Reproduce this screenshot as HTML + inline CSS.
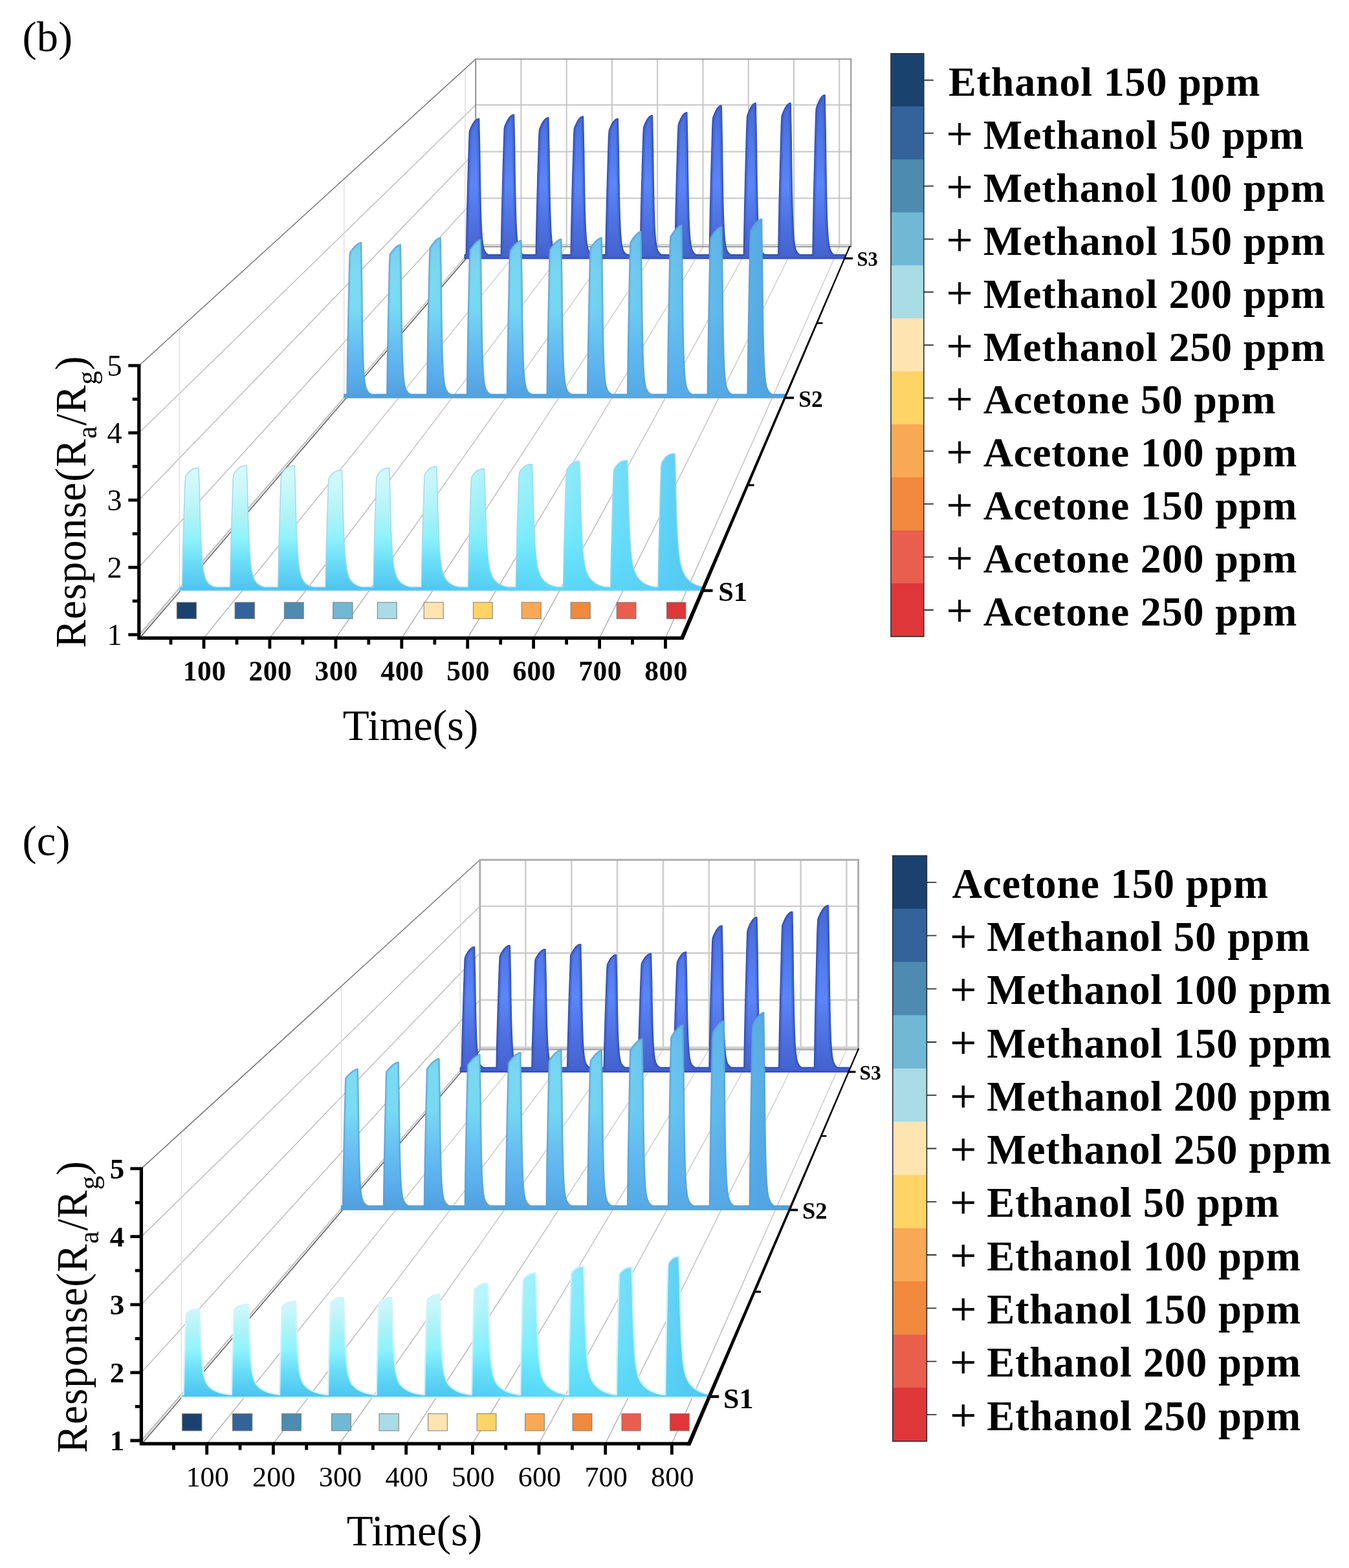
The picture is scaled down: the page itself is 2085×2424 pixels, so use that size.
<!DOCTYPE html>
<html lang="en"><head><meta charset="utf-8"><title>Gas sensor response figure (b) and (c)</title>
<style>html,body{margin:0;padding:0;background:#fff}body{width:2085px;height:2424px;overflow:hidden}svg{display:block}text{white-space:pre}.lg{font-kerning:none}</style>
</head><body>
<svg width="2085" height="2424" viewBox="0 0 2085 2424" role="img" aria-label="3D waterfall plots of sensor response versus time for sensors S1, S2 and S3">
<rect width="2085" height="2424" fill="#fff"/>
<g id="panel-b"><defs>
<linearGradient id="gb0" gradientUnits="userSpaceOnUse" x1="0" y1="700" x2="0" y2="913">
<stop offset="0" stop-color="#e2fbfd"/>
<stop offset="0.25" stop-color="#cdf8fa"/>
<stop offset="0.45" stop-color="#b2f4f6"/>
<stop offset="0.62" stop-color="#90f3fc"/>
<stop offset="0.8" stop-color="#6adcf8"/>
<stop offset="1" stop-color="#4cc2ef"/>
</linearGradient>
<linearGradient id="hb0" gradientUnits="userSpaceOnUse" x1="277.3" y1="0" x2="1087" y2="0">
<stop offset="0" stop-color="#52c9f4" stop-opacity="0"/>
<stop offset="0.45" stop-color="#5fe0fb" stop-opacity="0.05"/>
<stop offset="0.7" stop-color="#62e6fd" stop-opacity="0.55"/>
<stop offset="0.86" stop-color="#5cd6f8" stop-opacity="0.85"/>
<stop offset="1" stop-color="#52c6f2" stop-opacity="0.97"/>
</linearGradient>
<linearGradient id="gb1" gradientUnits="userSpaceOnUse" x1="0" y1="340" x2="0" y2="615">
<stop offset="0" stop-color="#74c6ec"/>
<stop offset="0.3" stop-color="#7ddcf2"/>
<stop offset="0.5" stop-color="#79dcf4"/>
<stop offset="0.7" stop-color="#68c0f2"/>
<stop offset="0.85" stop-color="#5cb0ee"/>
<stop offset="1" stop-color="#4f9fdc"/>
</linearGradient>
<linearGradient id="hb1" gradientUnits="userSpaceOnUse" x1="531.8" y1="0" x2="1213.5" y2="0">
<stop offset="0" stop-color="#52a6e2" stop-opacity="0"/>
<stop offset="0.5" stop-color="#5cb8ee" stop-opacity="0.15"/>
<stop offset="0.75" stop-color="#5ab2ec" stop-opacity="0.6"/>
<stop offset="1" stop-color="#4fa3e0" stop-opacity="0.95"/>
</linearGradient>
<linearGradient id="gb2" gradientUnits="userSpaceOnUse" x1="0" y1="147" x2="0" y2="399.6">
<stop offset="0" stop-color="#4668d6"/>
<stop offset="0.3" stop-color="#5079ea"/>
<stop offset="0.55" stop-color="#5a86f9"/>
<stop offset="0.8" stop-color="#4d70e0"/>
<stop offset="1" stop-color="#4362cc"/>
</linearGradient>
</defs>
<g fill="none" stroke-linecap="butt">
<path d="M805.4 91.4 V381.4 M875.7 91.4 V381.4 M945.9 91.4 V381.4 M1016.2 91.4 V381.4 M1086.5 91.4 V381.4 M1156.8 91.4 V381.4 M1227 91.4 V381.4 M1297.3 91.4 V381.4 M735.2 162.2 H1315.3 M735.2 234.4 H1315.3 M735.2 306.4 H1315.3 M735.2 378.4 H1315.3" stroke="#c6c6c6" stroke-width="2.0"/>
<path d="M214.8 669.3 L735.2 162.2 M214.8 773 L735.2 234.4 M214.8 877 L735.2 306.4 M214.8 981.2 L735.2 378.4" stroke="#b8b8b8" stroke-width="1.35"/>
<path d="M277.3 508.3 V913 M531.8 276.6 V615 M718.9 106.8 V399.6" stroke="#dadada" stroke-width="1.2"/>
<linearGradient id="flb" gradientUnits="userSpaceOnUse" x1="0" y1="986.4" x2="0" y2="381.4"><stop offset="0" stop-color="#a6a6a6"/><stop offset="0.55" stop-color="#bcbcbc"/><stop offset="1" stop-color="#cdcdcd"/></linearGradient>
<path d="M315 986.4 L805.4 381.4 M416.9 986.4 L875.7 381.4 M518.9 986.4 L945.9 381.4 M620.8 986.4 L1016.2 381.4 M722.7 986.4 L1086.5 381.4 M824.7 986.4 L1156.8 381.4 M926.6 986.4 L1227 381.4 M1028.5 986.4 L1297.3 381.4" stroke="url(#flb)" stroke-width="1.25"/>
<path d="M213.6 984.9 L734 379.9" stroke="#c9c9c9" stroke-width="1.5"/>
<path d="M215.8 986.4 L736.2 381.4" stroke="#6b6b6b" stroke-width="1.7"/>
<path d="M214.8 565.2 L735.2 91.4" stroke="#7a7a7a" stroke-width="1.5"/>
<path d="M735.2 91.4 H1315.3 V381.4 H735.2 Z" stroke="#888" stroke-width="1.8"/>
</g>
<defs><path id="pb2" d="M718.3 399.6 L718.3 394 L720.6 394 L721.3 354 L722 324.3 L722.7 297.6 L723.4 272.7 L724.1 249 L724.8 226.2 L725.5 204.2 L726.3 201 L727 199.3 L727.7 197.7 L728.4 196.2 L729.1 194.8 L729.8 193.4 L730.5 192.2 L731.2 191 L731.9 189.9 L732.6 188.9 L733.3 188 L734 187.2 L734.7 186.5 L735.5 185.8 L736.2 185.3 L736.9 184.8 L737.6 184.4 L738.3 184.1 L739 183.9 L739.7 183.7 L740.4 183.7 L741.5 235 L742 273.1 L742.5 301.4 L743 322.5 L743.5 338.4 L744 350.3 L744.5 359.4 L745 366.3 L745.5 371.6 L746 375.7 L746.5 379 L747 381.6 L747.5 383.6 L748 385.3 L748.5 386.7 L749 387.9 L750.5 390.4 L752 392 L753.5 393.2 L755 394 L756.5 394 L758 394 L759.5 394 L761 394 L762.5 394 L764 394 L765.5 394 L767 394 L768.5 394 L770 394 L771.5 394 L773 394 L774.5 394 L774.5 394 L775.2 352.8 L775.9 322.3 L776.6 294.8 L777.3 269.1 L778 244.7 L778.7 221.2 L779.5 198.6 L780.2 195.3 L780.9 193.6 L781.6 191.9 L782.3 190.4 L783 188.9 L783.7 187.5 L784.4 186.2 L785.1 185 L785.8 183.9 L786.5 182.9 L787.2 181.9 L787.9 181.1 L788.6 180.3 L789.3 179.7 L790.1 179.1 L790.8 178.6 L791.5 178.2 L792.2 177.9 L792.9 177.7 L793.6 177.5 L794.3 177.5 L795.4 230.3 L795.9 269.5 L796.4 298.7 L796.9 320.4 L797.4 336.7 L797.9 349 L798.4 358.3 L798.9 365.5 L799.4 370.9 L799.9 375.2 L800.4 378.6 L800.9 381.2 L801.4 383.3 L801.9 385.1 L802.4 386.5 L802.9 387.7 L804.4 390.3 L805.9 392 L807.4 393.2 L808.9 394 L810.4 394 L811.9 394 L813.4 394 L814.9 394 L816.4 394 L817.9 394 L819.4 394 L820.9 394 L822.4 394 L823.9 394 L825.4 394 L826.9 394 L828.4 394 L828.4 394 L829.1 354.6 L829.8 325.5 L830.5 299.2 L831.1 274.7 L831.8 251.3 L832.5 228.9 L833.2 207.3 L833.9 199.8 L834.6 198.1 L835.3 196.4 L835.9 194.9 L836.6 193.4 L837.3 192 L838 190.7 L838.7 189.5 L839.4 188.4 L840.1 187.4 L840.7 186.4 L841.4 185.6 L842.1 184.8 L842.8 184.2 L843.5 183.6 L844.2 183.1 L844.9 182.7 L845.5 182.4 L846.2 182.2 L846.9 182 L847.6 182 L848.7 233.7 L849.2 272.1 L849.7 300.6 L850.2 321.9 L850.7 337.9 L851.2 350 L851.7 359.1 L852.2 366.1 L852.7 371.4 L853.2 375.6 L853.7 378.9 L854.2 381.5 L854.7 383.6 L855.2 385.3 L855.7 386.7 L856.2 387.8 L857.7 390.4 L859.2 392 L860.7 393.2 L862.2 394 L863.7 394 L865.2 394 L866.7 394 L868.2 394 L869.7 394 L871.2 394 L872.7 394 L874.2 394 L875.7 394 L877.2 394 L878.7 394 L880.2 394 L881.7 394 L882.3 394 L882.3 394 L883 354.6 L883.7 325.5 L884.3 299.2 L885 274.7 L885.7 251.3 L886.4 228.9 L887 207.3 L887.7 198.3 L888.4 196.5 L889.1 194.8 L889.8 193.3 L890.4 191.8 L891.1 190.4 L891.8 189.1 L892.5 187.8 L893.2 186.7 L893.8 185.7 L894.5 184.7 L895.2 183.9 L895.9 183.1 L896.5 182.4 L897.2 181.8 L897.9 181.3 L898.6 180.9 L899.3 180.6 L899.9 180.4 L900.6 180.2 L901.3 180.2 L902.4 232.4 L902.9 271.1 L903.4 299.9 L903.9 321.3 L904.4 337.4 L904.9 349.6 L905.4 358.8 L905.9 365.8 L906.4 371.2 L906.9 375.4 L907.4 378.7 L907.9 381.4 L908.4 383.5 L908.9 385.2 L909.4 386.6 L909.9 387.8 L911.4 390.3 L912.9 392 L914.4 393.2 L915.9 394 L917.4 394 L918.9 394 L920.4 394 L921.9 394 L923.4 394 L924.9 394 L926.4 394 L927.9 394 L929.4 394 L930.9 394 L932.4 394 L933.9 394 L935.4 394 L936.1 394 L936.1 394 L936.8 355.4 L937.5 326.9 L938.1 301.1 L938.8 277.1 L939.5 254.3 L940.1 232.3 L940.8 211.1 L941.5 201.6 L942.2 199.8 L942.9 198.2 L943.5 196.6 L944.2 195.1 L944.9 193.7 L945.5 192.4 L946.2 191.2 L946.9 190.1 L947.6 189.1 L948.2 188.2 L948.9 187.3 L949.6 186.6 L950.3 185.9 L951 185.3 L951.6 184.8 L952.3 184.4 L953 184.1 L953.6 183.9 L954.3 183.7 L955 183.7 L956.1 235 L956.6 273.1 L957.1 301.4 L957.6 322.5 L958.1 338.4 L958.6 350.3 L959.1 359.4 L959.6 366.3 L960.1 371.6 L960.6 375.7 L961.1 379 L961.6 381.6 L962.1 383.6 L962.6 385.3 L963.1 386.7 L963.6 387.9 L965.1 390.4 L966.6 392 L968.1 393.2 L969.6 394 L971.1 394 L972.6 394 L974.1 394 L975.6 394 L977.1 394 L978.6 394 L980.1 394 L981.6 394 L983.1 394 L984.6 394 L986.1 394 L987.6 394 L989.1 394 L989.5 394 L989.5 394 L990.2 354.8 L990.8 325.8 L991.5 299.6 L992.2 275.2 L992.8 252 L993.5 229.6 L994.2 208.1 L994.8 196.8 L995.5 195 L996.2 193.3 L996.8 191.7 L997.5 190.2 L998.2 188.8 L998.9 187.4 L999.5 186.2 L1000.2 185 L1000.9 184 L1001.5 183 L1002.2 182.1 L1002.9 181.4 L1003.5 180.7 L1004.2 180.1 L1004.9 179.6 L1005.5 179.1 L1006.2 178.8 L1006.9 178.6 L1007.5 178.4 L1008.2 178.4 L1009.3 231 L1009.8 270 L1010.3 299.1 L1010.8 320.7 L1011.3 337 L1011.8 349.2 L1012.3 358.5 L1012.8 365.6 L1013.3 371 L1013.8 375.3 L1014.3 378.6 L1014.8 381.3 L1015.3 383.4 L1015.8 385.1 L1016.3 386.5 L1016.8 387.7 L1018.3 390.3 L1019.8 392 L1021.3 393.2 L1022.8 394 L1024.3 394 L1025.8 394 L1027.3 394 L1028.8 394 L1030.3 394 L1031.8 394 L1033.3 394 L1034.8 394 L1036.3 394 L1037.8 394 L1039.3 394 L1040.8 394 L1042.3 394 L1043.2 394 L1043.2 394 L1043.9 354.5 L1044.5 325.2 L1045.2 298.9 L1045.8 274.3 L1046.5 250.9 L1047.1 228.4 L1047.8 206.6 L1048.5 193 L1049.1 191.1 L1049.8 189.3 L1050.4 187.7 L1051.1 186.1 L1051.7 184.6 L1052.4 183.2 L1053.1 182 L1053.7 180.8 L1054.4 179.7 L1055 178.7 L1055.7 177.8 L1056.3 176.9 L1057 176.2 L1057.7 175.6 L1058.3 175.1 L1059 174.7 L1059.6 174.3 L1060.3 174.1 L1060.9 173.9 L1061.6 173.9 L1062.7 227.6 L1063.2 267.5 L1063.7 297.1 L1064.2 319.2 L1064.7 335.8 L1065.2 348.3 L1065.7 357.7 L1066.2 365 L1066.7 370.6 L1067.2 374.9 L1067.7 378.3 L1068.2 381 L1068.7 383.2 L1069.2 384.9 L1069.7 386.4 L1070.2 387.6 L1071.7 390.2 L1073.2 392 L1074.7 393.2 L1076.2 394 L1077.7 394 L1079.2 394 L1080.7 394 L1082.2 394 L1083.7 394 L1085.2 394 L1086.7 394 L1088.2 394 L1089.7 394 L1091.2 394 L1092.7 394 L1094.2 394 L1095.7 394 L1096.5 394 L1096.5 394 L1097.2 352.4 L1097.8 321.5 L1098.5 293.8 L1099.1 267.8 L1099.8 243.2 L1100.5 219.5 L1101.1 196.6 L1101.8 183 L1102.4 181.1 L1103.1 179.2 L1103.8 177.5 L1104.4 175.8 L1105.1 174.3 L1105.8 172.9 L1106.4 171.5 L1107.1 170.3 L1107.7 169.1 L1108.4 168.1 L1109.1 167.1 L1109.7 166.3 L1110.4 165.5 L1111 164.9 L1111.7 164.3 L1112.4 163.9 L1113 163.5 L1113.7 163.3 L1114.3 163.1 L1115 163.1 L1116.1 219.5 L1116.6 261.2 L1117.1 292.3 L1117.6 315.5 L1118.1 332.9 L1118.6 346 L1119.1 356 L1119.6 363.6 L1120.1 369.4 L1120.6 374 L1121.1 377.5 L1121.6 380.4 L1122.1 382.6 L1122.6 384.5 L1123.1 386 L1123.6 387.3 L1125.1 390 L1126.6 391.9 L1128.1 393.1 L1129.6 394 L1131.1 394 L1132.6 394 L1134.1 394 L1135.6 394 L1137.1 394 L1138.6 394 L1140.1 394 L1141.6 394 L1143.1 394 L1144.6 394 L1146.1 394 L1147.6 394 L1149.1 394 L1149.6 394 L1149.6 394 L1150.3 351.9 L1150.9 320.7 L1151.6 292.6 L1152.2 266.4 L1152.9 241.5 L1153.5 217.5 L1154.2 194.4 L1154.9 179.8 L1155.5 177.8 L1156.2 175.9 L1156.8 174.2 L1157.5 172.5 L1158.1 170.9 L1158.8 169.4 L1159.5 168.1 L1160.1 166.8 L1160.8 165.6 L1161.4 164.6 L1162.1 163.6 L1162.7 162.7 L1163.4 162 L1164.1 161.3 L1164.7 160.8 L1165.4 160.3 L1166 160 L1166.7 159.7 L1167.3 159.6 L1168 159.5 L1169.1 216.7 L1169.6 259.2 L1170.1 290.7 L1170.6 314.3 L1171.1 332 L1171.6 345.3 L1172.1 355.4 L1172.6 363.1 L1173.1 369 L1173.6 373.6 L1174.1 377.3 L1174.6 380.1 L1175.1 382.5 L1175.6 384.3 L1176.1 385.9 L1176.6 387.2 L1178.1 390 L1179.6 391.8 L1181.1 393.1 L1182.6 394 L1184.1 394 L1185.6 394 L1187.1 394 L1188.6 394 L1190.1 394 L1191.6 394 L1193.1 394 L1194.6 394 L1196.1 394 L1197.6 394 L1199.1 394 L1200.6 394 L1202.1 394 L1203 394 L1203 394 L1203.7 351 L1204.3 319.1 L1205 290.5 L1205.7 263.7 L1206.4 238.2 L1207 213.7 L1207.7 190 L1208.4 179.4 L1209.1 177.5 L1209.8 175.6 L1210.4 173.9 L1211.1 172.2 L1211.8 170.7 L1212.5 169.3 L1213.1 167.9 L1213.8 166.7 L1214.5 165.5 L1215.2 164.5 L1215.8 163.5 L1216.5 162.7 L1217.2 161.9 L1217.9 161.3 L1218.5 160.7 L1219.2 160.3 L1219.9 159.9 L1220.6 159.7 L1221.2 159.5 L1221.9 159.5 L1223 216.7 L1223.5 259.2 L1224 290.7 L1224.5 314.3 L1225 332 L1225.5 345.3 L1226 355.4 L1226.5 363.1 L1227 369 L1227.5 373.6 L1228 377.3 L1228.5 380.1 L1229 382.5 L1229.5 384.3 L1230 385.9 L1230.5 387.2 L1232 390 L1233.5 391.8 L1235 393.1 L1236.5 394 L1238 394 L1239.5 394 L1241 394 L1242.5 394 L1244 394 L1245.5 394 L1247 394 L1248.5 394 L1250 394 L1251.5 394 L1253 394 L1254.5 394 L1256 394 L1256.2 394 L1256.2 394 L1256.9 349.1 L1257.5 315.8 L1258.2 285.8 L1258.9 257.8 L1259.5 231.2 L1260.2 205.6 L1260.9 180.9 L1261.5 168 L1262.2 166 L1262.9 164 L1263.5 162.2 L1264.2 160.4 L1264.9 158.8 L1265.6 157.3 L1266.2 155.8 L1266.9 154.5 L1267.6 153.3 L1268.2 152.2 L1268.9 151.2 L1269.6 150.3 L1270.2 149.5 L1270.9 148.8 L1271.6 148.2 L1272.2 147.7 L1272.9 147.4 L1273.6 147.1 L1274.2 147 L1274.9 146.9 L1276 207.2 L1276.5 251.9 L1277 285.2 L1277.5 310 L1278 328.6 L1278.5 342.7 L1279 353.3 L1279.5 361.4 L1280 367.7 L1280.5 372.5 L1281 376.4 L1281.5 379.4 L1282 381.8 L1282.5 383.8 L1283 385.4 L1283.5 386.8 L1285 389.8 L1286.5 391.7 L1288 393 L1289.5 394 L1291 394 L1292.5 394 L1294 394 L1295.5 394 L1297 394 L1298.5 394 L1300 394 L1301.5 394 L1303 394 L1304.5 394 L1306 394 L1306 399.6 Z"/><clipPath id="cb2"><use href="#pb2"/></clipPath></defs>
<use href="#pb2" fill="url(#gb2)"/>
<use href="#pb2" fill="none" stroke="#3a58c4" stroke-width="7" stroke-opacity="0.45" clip-path="url(#cb2)"/>
<use href="#pb2" fill="none" stroke="#3450b4" stroke-width="1.9" stroke-linejoin="round" stroke-opacity="1"/>
<defs><path id="pb1" d="M531.8 615 L531.8 609.6 L536 609.6 L536.8 551.6 L537.6 508.7 L538.4 470 L539.2 433.9 L540 399.6 L540.8 390.3 L541.6 389.1 L542.4 388 L543.2 386.9 L544 385.8 L544.8 384.8 L545.6 383.8 L546.4 382.9 L547.2 382 L548 381.1 L548.8 380.3 L549.6 379.6 L550.4 378.9 L551.2 378.2 L552 377.6 L552.8 377 L553.6 376.5 L554.4 376.1 L555.2 375.7 L556 375.3 L556.8 375.1 L557.6 374.9 L558.4 374.8 L559.5 434.9 L560 478.6 L560.5 510.4 L561 533.7 L561.5 550.8 L562 563.5 L562.5 573 L563 580.1 L563.5 585.6 L564 589.8 L564.5 593 L565 595.6 L565.5 597.7 L566 599.5 L566.5 600.9 L567 602.1 L568.5 604.8 L570 606.6 L571.5 608 L573 609 L574.5 609.6 L576 609.6 L577.5 609.6 L579 609.6 L580.5 609.6 L582 609.6 L583.5 609.6 L585 609.6 L586.5 609.6 L588 609.6 L589.5 609.6 L591 609.6 L592.5 609.6 L594 609.6 L595.5 609.6 L597 609.6 L597.8 609.6 L597.8 609.6 L598.6 554.5 L599.3 513.6 L600.1 476.9 L600.9 442.5 L601.6 409.9 L602.4 393.6 L603.1 392.4 L603.9 391.3 L604.7 390.2 L605.4 389.1 L606.2 388.1 L607 387.1 L607.7 386.1 L608.5 385.2 L609.3 384.4 L610 383.6 L610.8 382.8 L611.6 382.1 L612.3 381.4 L613.1 380.8 L613.9 380.2 L614.6 379.7 L615.4 379.3 L616.1 378.9 L616.9 378.5 L617.7 378.3 L618.4 378.1 L619.2 378 L620.3 437.3 L620.8 480.4 L621.3 511.7 L621.8 534.7 L622.3 551.6 L622.8 564.1 L623.3 573.5 L623.8 580.5 L624.3 585.9 L624.8 590 L625.3 593.3 L625.8 595.8 L626.3 597.9 L626.8 599.6 L627.3 601 L627.8 602.2 L629.3 604.8 L630.8 606.7 L632.3 608 L633.8 609 L635.3 609.6 L636.8 609.6 L638.3 609.6 L639.8 609.6 L641.3 609.6 L642.8 609.6 L644.3 609.6 L645.8 609.6 L647.3 609.6 L648.8 609.6 L650.3 609.6 L651.8 609.6 L653.3 609.6 L654.8 609.6 L656.3 609.6 L657.8 609.6 L659.3 609.6 L659.7 609.6 L659.7 609.6 L660.5 552.2 L661.2 509.6 L662 471.3 L662.7 435.5 L663.5 401.4 L664.3 383.7 L665 382.4 L665.8 381.2 L666.5 380 L667.3 378.9 L668.1 377.8 L668.8 376.8 L669.6 375.8 L670.4 374.9 L671.1 374 L671.9 373.1 L672.6 372.3 L673.4 371.6 L674.2 370.9 L674.9 370.2 L675.7 369.6 L676.4 369.1 L677.2 368.6 L678 368.2 L678.7 367.9 L679.5 367.6 L680.2 367.4 L681 367.3 L682.1 429.3 L682.6 474.4 L683.1 507.2 L683.6 531.2 L684.1 548.9 L684.6 562 L685.1 571.8 L685.6 579.2 L686.1 584.8 L686.6 589.1 L687.1 592.5 L687.6 595.2 L688.1 597.4 L688.6 599.1 L689.1 600.6 L689.6 601.8 L691.1 604.6 L692.6 606.5 L694.1 607.9 L695.6 609 L697.1 609.6 L698.6 609.6 L700.1 609.6 L701.6 609.6 L703.1 609.6 L704.6 609.6 L706.1 609.6 L707.6 609.6 L709.1 609.6 L710.6 609.6 L712.1 609.6 L713.6 609.6 L715.1 609.6 L716.6 609.6 L718.1 609.6 L719.6 609.6 L721.1 609.6 L721.5 609.6 L721.5 609.6 L722.3 552.7 L723 510.5 L723.8 472.6 L724.6 437.1 L725.3 403.4 L726.1 386.6 L726.9 385.4 L727.6 384.2 L728.4 383.1 L729.1 381.9 L729.9 380.9 L730.7 379.9 L731.4 378.9 L732.2 378 L733 377.1 L733.7 376.2 L734.5 375.5 L735.3 374.7 L736 374 L736.8 373.4 L737.5 372.8 L738.3 372.3 L739.1 371.8 L739.8 371.4 L740.6 371 L741.4 370.8 L742.1 370.6 L742.9 370.5 L744 431.7 L744.5 476.2 L745 508.6 L745.5 532.3 L746 549.7 L746.5 562.6 L747 572.3 L747.5 579.6 L748 585.1 L748.5 589.4 L749 592.7 L749.5 595.4 L750 597.5 L750.5 599.3 L751 600.7 L751.5 601.9 L753 604.7 L754.5 606.6 L756 607.9 L757.5 609 L759 609.6 L760.5 609.6 L762 609.6 L763.5 609.6 L765 609.6 L766.5 609.6 L768 609.6 L769.5 609.6 L771 609.6 L772.5 609.6 L774 609.6 L775.5 609.6 L777 609.6 L778.5 609.6 L780 609.6 L781.5 609.6 L783 609.6 L783.4 609.6 L783.4 609.6 L784.2 550.9 L785 507.3 L785.8 468.1 L786.6 431.5 L787.4 396.7 L788.2 387.3 L789 386.1 L789.8 385 L790.6 383.9 L791.4 382.8 L792.2 381.8 L793 380.8 L793.8 379.8 L794.6 378.9 L795.4 378 L796.2 377.2 L797 376.4 L797.8 375.7 L798.6 375 L799.4 374.4 L800.2 373.8 L801 373.3 L801.8 372.9 L802.6 372.5 L803.4 372.1 L804.2 371.9 L805 371.7 L805.8 371.6 L806.9 432.5 L807.4 476.8 L807.9 509 L808.4 532.6 L808.9 550 L809.4 562.9 L809.9 572.5 L810.4 579.7 L810.9 585.2 L811.4 589.5 L811.9 592.8 L812.4 595.4 L812.9 597.6 L813.4 599.3 L813.9 600.8 L814.4 602 L815.9 604.7 L817.4 606.6 L818.9 607.9 L820.4 609 L821.9 609.6 L823.4 609.6 L824.9 609.6 L826.4 609.6 L827.9 609.6 L829.4 609.6 L830.9 609.6 L832.4 609.6 L833.9 609.6 L835.4 609.6 L836.9 609.6 L838.4 609.6 L839.9 609.6 L841.4 609.6 L842.9 609.6 L844.4 609.6 L845.2 609.6 L845.2 609.6 L846 550.3 L846.8 506.4 L847.6 466.9 L848.4 430 L849.2 394.9 L850 385.4 L850.8 384.2 L851.6 383 L852.4 381.9 L853.2 380.8 L854 379.7 L854.8 378.7 L855.6 377.8 L856.4 376.9 L857.2 376 L858 375.2 L858.8 374.4 L859.6 373.7 L860.4 373 L861.2 372.3 L862 371.8 L862.8 371.2 L863.6 370.8 L864.4 370.4 L865.2 370 L866 369.8 L866.8 369.6 L867.6 369.5 L868.7 431 L869.2 475.6 L869.7 508.1 L870.2 531.9 L870.7 549.5 L871.2 562.5 L871.7 572.1 L872.2 579.4 L872.7 585 L873.2 589.3 L873.7 592.7 L874.2 595.3 L874.7 597.5 L875.2 599.2 L875.7 600.7 L876.2 601.9 L877.7 604.7 L879.2 606.6 L880.7 607.9 L882.2 609 L883.7 609.6 L885.2 609.6 L886.7 609.6 L888.2 609.6 L889.7 609.6 L891.2 609.6 L892.7 609.6 L894.2 609.6 L895.7 609.6 L897.2 609.6 L898.7 609.6 L900.2 609.6 L901.7 609.6 L903.2 609.6 L904.7 609.6 L906.2 609.6 L907.7 609.6 L907.7 609.6 L908.5 549.8 L909.3 505.5 L910.1 465.6 L910.9 428.3 L911.7 392.9 L912.5 383.3 L913.3 382.1 L914.1 380.9 L914.9 379.8 L915.7 378.7 L916.5 377.6 L917.3 376.6 L918.1 375.7 L918.9 374.7 L919.7 373.9 L920.5 373 L921.3 372.2 L922.1 371.5 L922.9 370.8 L923.7 370.2 L924.5 369.6 L925.3 369.1 L926.1 368.6 L926.9 368.2 L927.7 367.8 L928.5 367.6 L929.3 367.4 L930.1 367.3 L931.2 429.3 L931.7 474.4 L932.2 507.2 L932.7 531.2 L933.2 548.9 L933.7 562 L934.2 571.8 L934.7 579.2 L935.2 584.8 L935.7 589.1 L936.2 592.5 L936.7 595.2 L937.2 597.4 L937.7 599.1 L938.2 600.6 L938.7 601.8 L940.2 604.6 L941.7 606.5 L943.2 607.9 L944.7 609 L946.2 609.6 L947.7 609.6 L949.2 609.6 L950.7 609.6 L952.2 609.6 L953.7 609.6 L955.2 609.6 L956.7 609.6 L958.2 609.6 L959.7 609.6 L961.2 609.6 L962.7 609.6 L964.2 609.6 L965.7 609.6 L967.2 609.6 L968.7 609.6 L969.6 609.6 L969.6 609.6 L970.4 549.9 L971.1 505.6 L971.9 465.8 L972.6 428.6 L973.4 393.2 L974.2 374.7 L974.9 373.4 L975.7 372.2 L976.4 370.9 L977.2 369.8 L978 368.7 L978.7 367.6 L979.5 366.6 L980.2 365.6 L981 364.7 L981.8 363.8 L982.5 362.9 L983.3 362.1 L984.1 361.4 L984.8 360.7 L985.6 360.1 L986.3 359.6 L987.1 359.1 L987.9 358.6 L988.6 358.3 L989.4 358 L990.1 357.8 L990.9 357.7 L992 422.2 L992.5 469 L993 503.1 L993.5 528.1 L994 546.5 L994.5 560.1 L995 570.3 L995.5 578 L996 583.8 L996.5 588.3 L997 591.8 L997.5 594.6 L998 596.9 L998.5 598.7 L999 600.2 L999.5 601.5 L1001 604.4 L1002.5 606.4 L1004 607.8 L1005.5 608.9 L1007 609.6 L1008.5 609.6 L1010 609.6 L1011.5 609.6 L1013 609.6 L1014.5 609.6 L1016 609.6 L1017.5 609.6 L1019 609.6 L1020.5 609.6 L1022 609.6 L1023.5 609.6 L1025 609.6 L1026.5 609.6 L1028 609.6 L1029.5 609.6 L1031 609.6 L1031.4 609.6 L1031.4 609.6 L1032.2 545.1 L1033 497.2 L1033.8 454.2 L1034.6 414 L1035.4 375.7 L1036.2 365.4 L1037 364.1 L1037.8 362.8 L1038.6 361.6 L1039.4 360.4 L1040.2 359.3 L1041 358.2 L1041.8 357.1 L1042.6 356.1 L1043.4 355.2 L1044.2 354.3 L1045 353.4 L1045.8 352.6 L1046.6 351.9 L1047.4 351.2 L1048.2 350.6 L1049 350 L1049.8 349.5 L1050.6 349.1 L1051.4 348.7 L1052.2 348.4 L1053 348.2 L1053.8 348.1 L1054.9 415 L1055.4 463.7 L1055.9 499.1 L1056.4 525 L1056.9 544.1 L1057.4 558.2 L1057.9 568.8 L1058.4 576.8 L1058.9 582.8 L1059.4 587.5 L1059.9 591.2 L1060.4 594.1 L1060.9 596.4 L1061.4 598.3 L1061.9 599.9 L1062.4 601.2 L1063.9 604.2 L1065.4 606.3 L1066.9 607.8 L1068.4 608.9 L1069.9 609.6 L1071.4 609.6 L1072.9 609.6 L1074.4 609.6 L1075.9 609.6 L1077.4 609.6 L1078.9 609.6 L1080.4 609.6 L1081.9 609.6 L1083.4 609.6 L1084.9 609.6 L1086.4 609.6 L1087.9 609.6 L1089.4 609.6 L1090.9 609.6 L1092.4 609.6 L1093.3 609.6 L1093.3 609.6 L1094.1 545.6 L1094.9 498.2 L1095.7 455.5 L1096.5 415.6 L1097.3 377.7 L1098.1 367.4 L1098.9 366.1 L1099.7 364.9 L1100.5 363.7 L1101.3 362.5 L1102.1 361.4 L1102.9 360.3 L1103.7 359.2 L1104.5 358.3 L1105.3 357.3 L1106.1 356.4 L1106.9 355.6 L1107.7 354.8 L1108.5 354.1 L1109.3 353.4 L1110.1 352.7 L1110.9 352.2 L1111.7 351.7 L1112.5 351.2 L1113.3 350.9 L1114.1 350.6 L1114.9 350.4 L1115.7 350.3 L1116.8 416.7 L1117.3 464.9 L1117.8 500 L1118.3 525.7 L1118.8 544.7 L1119.3 558.7 L1119.8 569.1 L1120.3 577 L1120.8 583 L1121.3 587.7 L1121.8 591.3 L1122.3 594.2 L1122.8 596.5 L1123.3 598.4 L1123.8 600 L1124.3 601.3 L1125.8 604.3 L1127.3 606.3 L1128.8 607.8 L1130.3 608.9 L1131.8 609.6 L1133.3 609.6 L1134.8 609.6 L1136.3 609.6 L1137.8 609.6 L1139.3 609.6 L1140.8 609.6 L1142.3 609.6 L1143.8 609.6 L1145.3 609.6 L1146.8 609.6 L1148.3 609.6 L1149.8 609.6 L1151.3 609.6 L1152.8 609.6 L1154.3 609.6 L1155.1 609.6 L1155.1 609.6 L1155.9 542.7 L1156.7 493.1 L1157.5 448.5 L1158.3 406.8 L1159.1 367.1 L1159.9 356.4 L1160.7 355.1 L1161.5 353.7 L1162.3 352.5 L1163.1 351.2 L1163.9 350.1 L1164.7 348.9 L1165.5 347.8 L1166.3 346.8 L1167.1 345.8 L1167.9 344.9 L1168.7 344 L1169.5 343.2 L1170.3 342.4 L1171.1 341.7 L1171.9 341.1 L1172.7 340.5 L1173.5 339.9 L1174.3 339.5 L1175.1 339.1 L1175.9 338.8 L1176.7 338.6 L1177.5 338.5 L1178.6 407.9 L1179.1 458.3 L1179.6 495 L1180.1 521.9 L1180.6 541.7 L1181.1 556.4 L1181.6 567.3 L1182.1 575.6 L1182.6 581.8 L1183.1 586.7 L1183.6 590.5 L1184.1 593.5 L1184.6 595.9 L1185.1 597.9 L1185.6 599.5 L1186.1 600.9 L1187.6 604 L1189.1 606.2 L1190.6 607.7 L1192.1 608.9 L1193.6 609.6 L1195.1 609.6 L1196.6 609.6 L1198.1 609.6 L1199.6 609.6 L1201.1 609.6 L1202.6 609.6 L1204.1 609.6 L1205.6 609.6 L1207.1 609.6 L1208.6 609.6 L1210.1 609.6 L1211.6 609.6 L1213.1 609.6 L1213.5 609.6 L1213.5 615 Z"/><clipPath id="cb1"><use href="#pb1"/></clipPath></defs>
<use href="#pb1" fill="url(#gb1)"/>
<use href="#pb1" fill="url(#hb1)"/>
<use href="#pb1" fill="none" stroke="#5aa0d8" stroke-width="5" stroke-opacity="0.3" clip-path="url(#cb1)"/>
<use href="#pb1" fill="none" stroke="#5b9fd2" stroke-width="1.5" stroke-linejoin="round" stroke-opacity="0.9"/>
<defs><path id="pb0" d="M277.3 913 L277.3 907.6 L281.5 907.6 L282.4 862.6 L283.3 829.2 L284.2 799.2 L285.1 771.1 L286.1 744.4 L287 736.3 L287.9 734.8 L288.8 733.5 L289.7 732.3 L290.6 731.1 L291.5 730.1 L292.4 729.1 L293.3 728.3 L294.2 727.5 L295.2 726.8 L296.1 726.2 L297 725.7 L297.9 725.2 L298.8 724.8 L299.7 724.5 L300.6 724.2 L301.5 724 L302.4 723.9 L303.4 723.8 L304.3 723.7 L305.2 723.6 L306.1 723.6 L307 723.6 L308.1 751.7 L308.6 775.1 L309.1 794.6 L309.6 811 L310.1 824.7 L310.6 836.2 L311.1 845.8 L311.6 854 L312.1 860.9 L312.6 866.7 L313.1 871.7 L313.6 875.9 L314.1 879.5 L314.6 882.6 L315.1 885.3 L315.6 887.7 L317.1 893 L318.6 896.7 L320.1 899.3 L321.6 901.3 L323.1 902.8 L324.6 904 L326.1 904.9 L327.6 905.7 L329.1 906.4 L330.6 906.9 L332.1 907.4 L333.6 907.6 L335.1 907.6 L336.6 907.6 L338.1 907.6 L339.6 907.6 L341.1 907.6 L342.6 907.6 L344.1 907.6 L345.6 907.6 L347.1 907.6 L348.6 907.6 L350.1 907.6 L351.6 907.6 L353.1 907.6 L354.6 907.6 L355.6 907.6 L355.6 907.6 L356.5 861.5 L357.4 827.4 L358.3 796.7 L359.3 768 L360.2 740.7 L361.1 732.9 L362 731.4 L362.9 730.1 L363.8 728.8 L364.7 727.7 L365.7 726.6 L366.6 725.6 L367.5 724.8 L368.4 724 L369.3 723.3 L370.2 722.7 L371.1 722.1 L372.1 721.7 L373 721.3 L373.9 720.9 L374.8 720.7 L375.7 720.4 L376.6 720.3 L377.5 720.2 L378.5 720.1 L379.4 720 L380.3 720 L381.2 720 L382.3 748.3 L382.8 772 L383.3 791.7 L383.8 808.2 L384.3 822 L384.8 833.6 L385.3 843.4 L385.8 851.7 L386.3 858.6 L386.8 864.6 L387.3 869.6 L387.8 873.9 L388.3 877.6 L388.8 880.8 L389.3 883.5 L389.8 885.9 L391.3 891.5 L392.8 895.3 L394.3 898.1 L395.8 900.1 L397.3 901.8 L398.8 903.1 L400.3 904.1 L401.8 905 L403.3 905.7 L404.8 906.3 L406.3 906.9 L407.8 907.3 L409.3 907.6 L410.8 907.6 L412.3 907.6 L413.8 907.6 L415.3 907.6 L416.8 907.6 L418.3 907.6 L419.8 907.6 L421.3 907.6 L422.8 907.6 L424.3 907.6 L425.8 907.6 L427.3 907.6 L428.8 907.6 L429.7 907.6 L429.7 907.6 L430.6 861.7 L431.5 827.7 L432.4 797 L433.3 768.4 L434.3 741.2 L435.2 732.9 L436.1 731.5 L437 730.1 L437.9 728.8 L438.8 727.7 L439.7 726.6 L440.6 725.6 L441.5 724.8 L442.4 724 L443.4 723.3 L444.3 722.7 L445.2 722.1 L446.1 721.7 L447 721.3 L447.9 720.9 L448.8 720.7 L449.7 720.4 L450.6 720.3 L451.6 720.2 L452.5 720.1 L453.4 720 L454.3 720 L455.2 720 L456.3 748 L456.8 771.4 L457.3 791 L457.8 807.3 L458.3 821 L458.8 832.5 L459.3 842.2 L459.8 850.4 L460.3 857.4 L460.8 863.2 L461.3 868.3 L461.8 872.6 L462.3 876.2 L462.8 879.4 L463.3 882.2 L463.8 884.6 L465.3 890.2 L466.8 894.1 L468.3 896.9 L469.8 899.1 L471.3 900.8 L472.8 902.2 L474.3 903.3 L475.8 904.3 L477.3 905.1 L478.8 905.7 L480.3 906.3 L481.8 906.8 L483.3 907.3 L484.8 907.6 L486.3 907.6 L487.8 907.6 L489.3 907.6 L490.8 907.6 L492.3 907.6 L493.8 907.6 L495.3 907.6 L496.8 907.6 L498.3 907.6 L499.8 907.6 L501.3 907.6 L502.8 907.6 L503 907.6 L503 907.6 L503.9 863.7 L504.8 831.1 L505.7 801.8 L506.6 774.5 L507.5 748.4 L508.4 739.5 L509.3 738.1 L510.2 736.8 L511.1 735.5 L512 734.4 L512.9 733.4 L513.8 732.5 L514.7 731.6 L515.6 730.9 L516.6 730.2 L517.5 729.6 L518.4 729.1 L519.3 728.6 L520.2 728.2 L521.1 727.9 L522 727.6 L522.9 727.4 L523.8 727.3 L524.7 727.1 L525.6 727.1 L526.5 727 L527.4 727 L528.3 727 L529.4 753.7 L529.9 776 L530.4 794.6 L530.9 810.2 L531.4 823.3 L531.9 834.3 L532.4 843.5 L532.9 851.4 L533.4 858 L533.9 863.6 L534.4 868.4 L534.9 872.6 L535.4 876.1 L535.9 879.2 L536.4 881.8 L536.9 884.1 L538.4 889.6 L539.9 893.4 L541.4 896.2 L542.9 898.3 L544.4 900.1 L545.9 901.5 L547.4 902.6 L548.9 903.6 L550.4 904.5 L551.9 905.2 L553.4 905.8 L554.9 906.3 L556.4 906.8 L557.9 907.2 L559.4 907.6 L560.9 907.6 L562.4 907.6 L563.9 907.6 L565.4 907.6 L566.9 907.6 L568.4 907.6 L569.9 907.6 L571.4 907.6 L572.9 907.6 L574.4 907.6 L575.9 907.6 L577 907.6 L577 907.6 L577.9 864 L578.8 831.7 L579.6 802.6 L580.5 775.4 L581.4 749.6 L582.2 736.6 L583.1 735.1 L584 733.7 L584.9 732.5 L585.8 731.3 L586.6 730.2 L587.5 729.3 L588.4 728.4 L589.2 727.6 L590.1 726.9 L591 726.3 L591.9 725.7 L592.8 725.3 L593.6 724.9 L594.5 724.5 L595.4 724.3 L596.2 724 L597.1 723.9 L598 723.8 L598.9 723.7 L599.8 723.6 L600.6 723.6 L601.5 723.6 L602.6 750.5 L603.1 773 L603.6 791.8 L604.1 807.5 L604.6 820.7 L605.1 831.8 L605.6 841.2 L606.1 849.1 L606.6 855.8 L607.1 861.5 L607.6 866.4 L608.1 870.6 L608.6 874.2 L609.1 877.3 L609.6 880 L610.1 882.4 L611.6 887.9 L613.1 891.9 L614.6 894.8 L616.1 897.1 L617.6 898.9 L619.1 900.4 L620.6 901.7 L622.1 902.8 L623.6 903.7 L625.1 904.5 L626.6 905.2 L628.1 905.8 L629.6 906.3 L631.1 906.7 L632.6 907.1 L634.1 907.5 L635.6 907.6 L637.1 907.6 L638.6 907.6 L640.1 907.6 L641.6 907.6 L643.1 907.6 L644.6 907.6 L646.1 907.6 L647.6 907.6 L649.1 907.6 L650.6 907.6 L651.2 907.6 L651.2 907.6 L652 864.9 L652.9 833.2 L653.7 804.7 L654.6 778.1 L655.4 752.8 L656.2 734.7 L657.1 733.2 L657.9 731.8 L658.8 730.4 L659.6 729.2 L660.4 728.1 L661.3 727.1 L662.1 726.2 L663 725.4 L663.8 724.6 L664.6 724 L665.5 723.4 L666.3 722.9 L667.1 722.5 L668 722.2 L668.8 721.9 L669.7 721.7 L670.5 721.5 L671.3 721.4 L672.2 721.3 L673 721.2 L673.9 721.2 L674.7 721.2 L675.8 748.2 L676.3 770.8 L676.8 789.6 L677.3 805.4 L677.8 818.6 L678.3 829.8 L678.8 839.2 L679.3 847.1 L679.8 853.8 L680.3 859.6 L680.8 864.5 L681.3 868.7 L681.8 872.4 L682.3 875.5 L682.8 878.3 L683.3 880.7 L684.8 886.3 L686.3 890.4 L687.8 893.4 L689.3 895.8 L690.8 897.7 L692.3 899.3 L693.8 900.7 L695.3 901.8 L696.8 902.8 L698.3 903.7 L699.8 904.5 L701.3 905.1 L702.8 905.7 L704.3 906.2 L705.8 906.7 L707.3 907.1 L708.8 907.4 L710.3 907.6 L711.8 907.6 L713.3 907.6 L714.8 907.6 L716.3 907.6 L717.8 907.6 L719.3 907.6 L720.8 907.6 L722.3 907.6 L723.5 907.6 L723.5 907.6 L724.4 863.6 L725.3 830.9 L726.2 801.6 L727.1 774.1 L728 748 L728.9 737.5 L729.8 736.1 L730.6 734.8 L731.5 733.5 L732.4 732.4 L733.3 731.3 L734.2 730.4 L735.1 729.5 L736 728.7 L736.9 728 L737.8 727.4 L738.7 726.9 L739.6 726.4 L740.5 726 L741.4 725.7 L742.2 725.4 L743.1 725.2 L744 725.1 L744.9 725 L745.8 724.9 L746.7 724.8 L747.6 724.8 L748.5 724.8 L749.6 751 L750.1 772.9 L750.6 791.2 L751.1 806.5 L751.6 819.4 L752.1 830.2 L752.6 839.3 L753.1 847.1 L753.6 853.6 L754.1 859.2 L754.6 864 L755.1 868.1 L755.6 871.7 L756.1 874.8 L756.6 877.5 L757.1 879.8 L758.6 885.4 L760.1 889.4 L761.6 892.5 L763.1 894.9 L764.6 896.9 L766.1 898.5 L767.6 899.9 L769.1 901.1 L770.6 902.1 L772.1 903.1 L773.6 903.9 L775.1 904.6 L776.6 905.2 L778.1 905.7 L779.6 906.2 L781.1 906.6 L782.6 907 L784.1 907.3 L785.6 907.6 L787.1 907.6 L788.6 907.6 L790.1 907.6 L791.6 907.6 L793.1 907.6 L794.6 907.6 L796.1 907.6 L797.3 907.6 L797.3 907.6 L798.2 861.6 L799.1 827.5 L800 796.7 L800.9 768.1 L801.8 740.8 L802.7 730.9 L803.6 729.4 L804.5 728 L805.4 726.7 L806.3 725.5 L807.2 724.4 L808.1 723.5 L809 722.6 L809.9 721.8 L810.8 721.1 L811.7 720.4 L812.6 719.9 L813.5 719.4 L814.4 719 L815.3 718.6 L816.2 718.4 L817.1 718.1 L818 718 L818.9 717.9 L819.8 717.8 L820.7 717.7 L821.6 717.7 L822.5 717.7 L823.6 744.6 L824.1 767.1 L824.6 786 L825.1 801.7 L825.6 815 L826.1 826.1 L826.6 835.5 L827.1 843.5 L827.6 850.2 L828.1 856 L828.6 861 L829.1 865.2 L829.6 868.9 L830.1 872.1 L830.6 874.9 L831.1 877.4 L832.6 883.2 L834.1 887.4 L835.6 890.6 L837.1 893.2 L838.6 895.3 L840.1 897.1 L841.6 898.6 L843.1 899.9 L844.6 901.1 L846.1 902.1 L847.6 903 L849.1 903.8 L850.6 904.5 L852.1 905.1 L853.6 905.6 L855.1 906.1 L856.6 906.5 L858.1 906.9 L859.6 907.3 L861.1 907.6 L862.6 907.6 L864.1 907.6 L865.6 907.6 L867.1 907.6 L868.6 907.6 L870.1 907.6 L870.5 907.6 L870.5 907.6 L871.4 860.7 L872.3 826 L873.2 794.7 L874.1 765.5 L875 737.7 L875.9 726.6 L876.8 725 L877.6 723.6 L878.5 722.3 L879.4 721.1 L880.3 719.9 L881.2 718.9 L882.1 718 L883 717.2 L883.9 716.5 L884.8 715.8 L885.7 715.2 L886.6 714.7 L887.5 714.3 L888.4 714 L889.2 713.7 L890.1 713.5 L891 713.3 L891.9 713.2 L892.8 713.1 L893.7 713 L894.6 713 L895.5 713 L896.6 740.3 L897.1 763.1 L897.6 782.2 L898.1 798.2 L898.6 811.6 L899.1 823 L899.6 832.5 L900.1 840.6 L900.6 847.5 L901.1 853.4 L901.6 858.4 L902.1 862.8 L902.6 866.5 L903.1 869.8 L903.6 872.7 L904.1 875.2 L905.6 881.2 L907.1 885.5 L908.6 888.9 L910.1 891.6 L911.6 893.8 L913.1 895.7 L914.6 897.3 L916.1 898.7 L917.6 900 L919.1 901.1 L920.6 902.1 L922.1 902.9 L923.6 903.7 L925.1 904.4 L926.6 905 L928.1 905.5 L929.6 906 L931.1 906.4 L932.6 906.8 L934.1 907.2 L935.6 907.5 L937.1 907.6 L938.6 907.6 L940.1 907.6 L941.6 907.6 L943.1 907.6 L943.6 907.6 L943.6 907.6 L944.5 859.1 L945.5 823.1 L946.4 790.8 L947.3 760.5 L948.2 731.8 L949.1 725.2 L950.1 723.6 L951 722.2 L951.9 720.9 L952.9 719.7 L953.8 718.6 L954.7 717.6 L955.6 716.7 L956.5 715.9 L957.5 715.2 L958.4 714.6 L959.3 714 L960.2 713.5 L961.2 713.1 L962.1 712.8 L963 712.5 L964 712.3 L964.9 712.1 L965.8 712 L966.7 711.9 L967.6 711.8 L968.6 711.8 L969.5 711.8 L970.6 739 L971.1 761.7 L971.6 780.7 L972.1 796.6 L972.6 810 L973.1 821.3 L973.6 830.8 L974.1 838.9 L974.6 845.8 L975.1 851.7 L975.6 856.7 L976.1 861.1 L976.6 864.8 L977.1 868.1 L977.6 871 L978.1 873.5 L979.6 879.6 L981.1 884 L982.6 887.4 L984.1 890.2 L985.6 892.5 L987.1 894.5 L988.6 896.2 L990.1 897.7 L991.6 899 L993.1 900.1 L994.6 901.2 L996.1 902.1 L997.6 902.9 L999.1 903.7 L1000.6 904.3 L1002.1 904.9 L1003.6 905.5 L1005.1 905.9 L1006.6 906.4 L1008.1 906.7 L1009.6 907.1 L1011.1 907.4 L1012.6 907.6 L1014.1 907.6 L1015.6 907.6 L1017 907.6 L1017 907.6 L1017.9 856.3 L1018.9 818.3 L1019.8 784.1 L1020.7 752.1 L1021.6 721.7 L1022.6 715.3 L1023.5 713.7 L1024.4 712.2 L1025.4 710.8 L1026.3 709.5 L1027.2 708.4 L1028.1 707.3 L1029.1 706.4 L1030 705.5 L1030.9 704.8 L1031.9 704.1 L1032.8 703.5 L1033.7 703 L1034.6 702.6 L1035.6 702.2 L1036.5 701.9 L1037.4 701.7 L1038.4 701.5 L1039.3 701.4 L1040.2 701.3 L1041.1 701.2 L1042.1 701.2 L1043 701.2 L1044.1 729.6 L1044.6 753.3 L1045.1 773.1 L1045.6 789.7 L1046.1 803.7 L1046.6 815.5 L1047.1 825.4 L1047.6 833.9 L1048.1 841 L1048.6 847.2 L1049.1 852.5 L1049.6 857 L1050.1 861 L1050.6 864.4 L1051.1 867.5 L1051.6 870.1 L1053.1 876.5 L1054.6 881.3 L1056.1 884.9 L1057.6 887.9 L1059.1 890.4 L1060.6 892.5 L1062.1 894.4 L1063.6 896 L1065.1 897.5 L1066.6 898.8 L1068.1 899.9 L1069.6 901 L1071.1 901.9 L1072.6 902.7 L1074.1 903.5 L1075.6 904.2 L1077.1 904.8 L1078.6 905.3 L1080.1 905.8 L1081.6 906.2 L1083.1 906.6 L1084.6 907 L1086.1 907.3 L1087 907.5 L1087 913 Z"/><clipPath id="cb0"><use href="#pb0"/></clipPath></defs>
<use href="#pb0" fill="url(#gb0)"/>
<use href="#pb0" fill="url(#hb0)"/>
<use href="#pb0" fill="none" stroke="#9fd6ee" stroke-width="1.6" stroke-linejoin="round" stroke-opacity="0.9"/>
<rect x="273.4" y="931.2" width="30" height="25.2" fill="#1b426e" stroke="#6f6f6f" stroke-opacity="0.75" stroke-width="1.2"/>
<rect x="363.1" y="931.2" width="30.3" height="25.2" fill="#33639a" stroke="#6f6f6f" stroke-opacity="0.75" stroke-width="1.2"/>
<rect x="439.4" y="931.2" width="29.8" height="25.2" fill="#4d8bb0" stroke="#6f6f6f" stroke-opacity="0.75" stroke-width="1.2"/>
<rect x="514.7" y="931.2" width="30.3" height="25.2" fill="#71b8d4" stroke="#6f6f6f" stroke-opacity="0.75" stroke-width="1.2"/>
<rect x="583.4" y="931.2" width="29.8" height="25.2" fill="#a9dce5" stroke="#6f6f6f" stroke-opacity="0.75" stroke-width="1.2"/>
<rect x="655.2" y="931.2" width="30" height="25.2" fill="#fee4b1" stroke="#6f6f6f" stroke-opacity="0.75" stroke-width="1.2"/>
<rect x="731.5" y="931.2" width="29.7" height="25.2" fill="#fed466" stroke="#6f6f6f" stroke-opacity="0.75" stroke-width="1.2"/>
<rect x="806.3" y="931.2" width="30" height="25.2" fill="#f9a956" stroke="#6f6f6f" stroke-opacity="0.75" stroke-width="1.2"/>
<rect x="882.2" y="931.2" width="30" height="25.2" fill="#f0893d" stroke="#6f6f6f" stroke-opacity="0.75" stroke-width="1.2"/>
<rect x="953.2" y="931.2" width="29.8" height="25.2" fill="#e85f4e" stroke="#6f6f6f" stroke-opacity="0.75" stroke-width="1.2"/>
<rect x="1030.5" y="931.2" width="29.4" height="25.2" fill="#df3639" stroke="#6f6f6f" stroke-opacity="0.75" stroke-width="1.2"/>
<path d="M1049.7 989 L1071.7 938.3 L1093.6 887.5 L1115.6 836.8 L1137.5 786 L1159.4 735.2 L1181.3 684.5 L1203.2 633.7 L1225.1 583 L1246.9 532.2 L1268.8 481.4 L1290.7 430.7 L1312.5 379.9 L1314.8 379.9 L1293.2 430.7 L1271.6 481.4 L1250 532.2 L1228.5 583 L1206.9 633.7 L1185.4 684.5 L1163.9 735.2 L1142.4 786 L1120.9 836.8 L1099.4 887.5 L1077.9 938.3 L1056.4 989 Z" fill="#000"/>
<g stroke="#000" fill="none">
<path d="M214.8 563 V986.4 H1056.1" stroke-width="5.3" stroke-linejoin="miter"/>
<path d="M264 986.4 V996.5 M315 986.4 V1002.8 M366 986.4 V996.5 M416.9 986.4 V1002.8 M467.9 986.4 V996.5 M518.9 986.4 V1002.8 M569.8 986.4 V996.5 M620.8 986.4 V1002.8 M671.8 986.4 V996.5 M722.7 986.4 V1002.8 M773.7 986.4 V996.5 M824.6 986.4 V1002.8 M875.6 986.4 V996.5 M926.6 986.4 V1002.8 M977.5 986.4 V996.5 M1028.5 986.4 V1002.8 M214.8 565.2 H198.3 M214.8 617.2 H204.7 M214.8 669.2 H198.3 M214.8 721.2 H204.7 M214.8 773.2 H198.3 M214.8 825.2 H204.7 M214.8 877.2 H198.3 M214.8 929.2 H204.7 M214.8 981.2 H198.3" stroke-width="4.8"/>
<path d="M1086 913 H1101.5" stroke-width="4.4"/>
<path d="M1155 750 H1165.5" stroke-width="3.2"/>
<path d="M1213 615 H1227" stroke-width="3.6"/>
<path d="M1262 499.5 H1271.5" stroke-width="2.6"/>
<path d="M1305.5 399.4 H1318" stroke-width="3.2"/>
</g>
<g font-family="'Liberation Serif', 'DejaVu Serif', serif" fill="#000">
<text x="316" y="1052.3" font-size="43.5" font-weight="bold" letter-spacing="0.5" text-anchor="middle">100</text>
<text x="417.9" y="1052.3" font-size="43.5" font-weight="bold" letter-spacing="0.5" text-anchor="middle">200</text>
<text x="519.9" y="1052.3" font-size="43.5" font-weight="bold" letter-spacing="0.5" text-anchor="middle">300</text>
<text x="621.8" y="1052.3" font-size="43.5" font-weight="bold" letter-spacing="0.5" text-anchor="middle">400</text>
<text x="723.7" y="1052.3" font-size="43.5" font-weight="bold" letter-spacing="0.5" text-anchor="middle">500</text>
<text x="825.7" y="1052.3" font-size="43.5" font-weight="bold" letter-spacing="0.5" text-anchor="middle">600</text>
<text x="927.6" y="1052.3" font-size="43.5" font-weight="bold" letter-spacing="0.5" text-anchor="middle">700</text>
<text x="1029.5" y="1052.3" font-size="43.5" font-weight="bold" letter-spacing="0.5" text-anchor="middle">800</text>
<text x="188.6" y="581.2" font-size="46.2" font-weight="normal" text-anchor="end">5</text>
<text x="188.6" y="685.3" font-size="46.2" font-weight="normal" text-anchor="end">4</text>
<text x="188.6" y="789" font-size="46.2" font-weight="normal" text-anchor="end">3</text>
<text x="188.6" y="893" font-size="46.2" font-weight="normal" text-anchor="end">2</text>
<text x="188.6" y="997.2" font-size="46.2" font-weight="normal" text-anchor="end">1</text>
<text x="634.5" y="1143.5" font-size="67" text-anchor="middle">Time(s)</text>
<text transform="translate(132 775.6) rotate(-90) scale(1 1.047)" font-size="65" letter-spacing="0.95" text-anchor="middle">Response(R<tspan font-size="42.9" dy="16.6">a</tspan><tspan dy="-16.6">/R</tspan><tspan font-size="42.9" dy="16.6">g</tspan><tspan dy="-16.6">)</tspan></text>
<text x="34.6" y="79" font-size="66.5">(b)</text>
<text x="1110.2" y="928.8" font-size="42.5" font-weight="bold">S1</text>
<text x="1234.2" y="628.5" font-size="35.5" font-weight="bold">S2</text>
<text x="1324.6" y="410.7" font-size="30.5" font-weight="bold">S3</text>
<rect x="1377" y="82.6" width="50.8" height="82.5" fill="#1b426e"/>
<rect x="1377" y="164.5" width="50.8" height="82.5" fill="#33639a"/>
<rect x="1377" y="246.4" width="50.8" height="82.5" fill="#4d8bb0"/>
<rect x="1377" y="328.4" width="50.8" height="82.5" fill="#71b8d4"/>
<rect x="1377" y="410.3" width="50.8" height="82.5" fill="#a9dce5"/>
<rect x="1377" y="492.2" width="50.8" height="82.5" fill="#fee4b1"/>
<rect x="1377" y="574.1" width="50.8" height="82.5" fill="#fed466"/>
<rect x="1377" y="656" width="50.8" height="82.5" fill="#f9a956"/>
<rect x="1377" y="737.9" width="50.8" height="82.5" fill="#f0893d"/>
<rect x="1377" y="819.9" width="50.8" height="82.5" fill="#e85f4e"/>
<rect x="1377" y="901.8" width="50.8" height="82.5" fill="#df3639"/>
<rect x="1377" y="82.9" width="50.8" height="901.1" fill="none" stroke="#26303a" stroke-width="1.6"/>
<path d="M1427.8 123.9 H1442.8 M1427.8 205.8 H1442.8 M1427.8 287.7 H1442.8 M1427.8 369.6 H1442.8 M1427.8 451.5 H1442.8 M1427.8 533.5 H1442.8 M1427.8 615.4 H1442.8 M1427.8 697.3 H1442.8 M1427.8 779.2 H1442.8 M1427.8 861.1 H1442.8 M1427.8 943 H1442.8" stroke="#333" stroke-width="1.8" fill="none"/>
<text x="1466" y="147.9" font-size="64" font-weight="bold" class="lg" letter-spacing="0.85" xml:space="preserve">Ethanol 150 ppm</text>
<text font-weight="bold" class="lg" xml:space="preserve"><tspan x="1462.8" y="231.2" font-size="72" font-weight="normal" stroke="#000" stroke-width="0.7">+</tspan><tspan x="1502.8" y="229.8" font-size="64" letter-spacing="0.85"> Methanol 50 ppm</tspan></text>
<text font-weight="bold" class="lg" xml:space="preserve"><tspan x="1462.8" y="313.1" font-size="72" font-weight="normal" stroke="#000" stroke-width="0.7">+</tspan><tspan x="1502.8" y="311.7" font-size="64" letter-spacing="0.85"> Methanol 100 ppm</tspan></text>
<text font-weight="bold" class="lg" xml:space="preserve"><tspan x="1462.8" y="395" font-size="72" font-weight="normal" stroke="#000" stroke-width="0.7">+</tspan><tspan x="1502.8" y="393.6" font-size="64" letter-spacing="0.85"> Methanol 150 ppm</tspan></text>
<text font-weight="bold" class="lg" xml:space="preserve"><tspan x="1462.8" y="476.9" font-size="72" font-weight="normal" stroke="#000" stroke-width="0.7">+</tspan><tspan x="1502.8" y="475.5" font-size="64" letter-spacing="0.85"> Methanol 200 ppm</tspan></text>
<text font-weight="bold" class="lg" xml:space="preserve"><tspan x="1462.8" y="558.9" font-size="72" font-weight="normal" stroke="#000" stroke-width="0.7">+</tspan><tspan x="1502.8" y="557.5" font-size="64" letter-spacing="0.85"> Methanol 250 ppm</tspan></text>
<text font-weight="bold" class="lg" xml:space="preserve"><tspan x="1462.8" y="640.8" font-size="72" font-weight="normal" stroke="#000" stroke-width="0.7">+</tspan><tspan x="1502.8" y="639.4" font-size="64" letter-spacing="0.85"> Acetone 50 ppm</tspan></text>
<text font-weight="bold" class="lg" xml:space="preserve"><tspan x="1462.8" y="722.7" font-size="72" font-weight="normal" stroke="#000" stroke-width="0.7">+</tspan><tspan x="1502.8" y="721.3" font-size="64" letter-spacing="0.85"> Acetone 100 ppm</tspan></text>
<text font-weight="bold" class="lg" xml:space="preserve"><tspan x="1462.8" y="804.6" font-size="72" font-weight="normal" stroke="#000" stroke-width="0.7">+</tspan><tspan x="1502.8" y="803.2" font-size="64" letter-spacing="0.85"> Acetone 150 ppm</tspan></text>
<text font-weight="bold" class="lg" xml:space="preserve"><tspan x="1462.8" y="886.5" font-size="72" font-weight="normal" stroke="#000" stroke-width="0.7">+</tspan><tspan x="1502.8" y="885.1" font-size="64" letter-spacing="0.85"> Acetone 200 ppm</tspan></text>
<text font-weight="bold" class="lg" xml:space="preserve"><tspan x="1462.8" y="968.4" font-size="72" font-weight="normal" stroke="#000" stroke-width="0.7">+</tspan><tspan x="1502.8" y="967" font-size="64" letter-spacing="0.85"> Acetone 250 ppm</tspan></text>
</g></g>
<g id="panel-c"><defs>
<linearGradient id="gc0" gradientUnits="userSpaceOnUse" x1="0" y1="1940" x2="0" y2="2160.2">
<stop offset="0" stop-color="#e6fcfe"/>
<stop offset="0.36" stop-color="#d2f9fb"/>
<stop offset="0.52" stop-color="#b0f4f7"/>
<stop offset="0.66" stop-color="#92f5fd"/>
<stop offset="0.82" stop-color="#68dcf8"/>
<stop offset="1" stop-color="#4ac2ef"/>
</linearGradient>
<linearGradient id="hc0" gradientUnits="userSpaceOnUse" x1="280.2" y1="0" x2="1096.5" y2="0">
<stop offset="0" stop-color="#52c9f4" stop-opacity="0"/>
<stop offset="0.5" stop-color="#62e6fd" stop-opacity="0.1"/>
<stop offset="0.7" stop-color="#62e8fe" stop-opacity="0.6"/>
<stop offset="0.86" stop-color="#5cd6f8" stop-opacity="0.85"/>
<stop offset="1" stop-color="#50c6f2" stop-opacity="0.97"/>
</linearGradient>
<linearGradient id="gc1" gradientUnits="userSpaceOnUse" x1="0" y1="1565" x2="0" y2="1870.3">
<stop offset="0" stop-color="#74c6ec"/>
<stop offset="0.3" stop-color="#7ddcf2"/>
<stop offset="0.5" stop-color="#79dcf4"/>
<stop offset="0.7" stop-color="#68c0f2"/>
<stop offset="0.85" stop-color="#5cb0ee"/>
<stop offset="1" stop-color="#4f9fdc"/>
</linearGradient>
<linearGradient id="hc1" gradientUnits="userSpaceOnUse" x1="527.5" y1="0" x2="1220.5" y2="0">
<stop offset="0" stop-color="#52a6e2" stop-opacity="0"/>
<stop offset="0.5" stop-color="#5cb8ee" stop-opacity="0.15"/>
<stop offset="0.75" stop-color="#5ab2ec" stop-opacity="0.6"/>
<stop offset="1" stop-color="#4fa3e0" stop-opacity="0.95"/>
</linearGradient>
<linearGradient id="gc2" gradientUnits="userSpaceOnUse" x1="0" y1="1400" x2="0" y2="1657">
<stop offset="0" stop-color="#4668d6"/>
<stop offset="0.3" stop-color="#5079ea"/>
<stop offset="0.55" stop-color="#5a86f9"/>
<stop offset="0.8" stop-color="#4d70e0"/>
<stop offset="1" stop-color="#4362cc"/>
</linearGradient>
</defs>
<g fill="none" stroke-linecap="butt">
<path d="M812.4 1329.2 V1622.2 M883.3 1329.2 V1622.2 M954.1 1329.2 V1622.2 M1025 1329.2 V1622.2 M1095.8 1329.2 V1622.2 M1166.7 1329.2 V1622.2 M1237.6 1329.2 V1622.2 M1308.4 1329.2 V1622.2 M741.8 1401 H1326.6 M741.8 1473.4 H1326.6 M741.8 1545.8 H1326.6 M741.8 1619.2 H1326.6" stroke="#d0d0d0" stroke-width="2.7"/>
<path d="M218.4 1911.7 L741.8 1401 M218.4 2016.8 L741.8 1473.4 M218.4 2121.9 L741.8 1545.8 M218.4 2227 L741.8 1619.2" stroke="#b8b8b8" stroke-width="1.35"/>
<path d="M280.2 1750.2 V2160.2 M527.5 1524.7 V1870.3 M711.4 1356.7 V1657" stroke="#dadada" stroke-width="1.2"/>
<linearGradient id="flc" gradientUnits="userSpaceOnUse" x1="0" y1="2231.8" x2="0" y2="1622.2"><stop offset="0" stop-color="#a6a6a6"/><stop offset="0.55" stop-color="#bcbcbc"/><stop offset="1" stop-color="#cdcdcd"/></linearGradient>
<path d="M319.7 2231.8 L812.4 1622.2 M422.4 2231.8 L883.3 1622.2 M525 2231.8 L954.1 1622.2 M627.7 2231.8 L1025 1622.2 M730.4 2231.8 L1095.8 1622.2 M833 2231.8 L1166.7 1622.2 M935.7 2231.8 L1237.6 1622.2 M1038.4 2231.8 L1308.4 1622.2" stroke="url(#flc)" stroke-width="1.25"/>
<path d="M217.2 2230.3 L740.6 1620.7" stroke="#c9c9c9" stroke-width="1.5"/>
<path d="M219.4 2231.8 L742.8 1622.2" stroke="#6b6b6b" stroke-width="1.7"/>
<path d="M218.4 1806.6 L741.8 1329.2" stroke="#7a7a7a" stroke-width="1.5"/>
<path d="M741.8 1329.2 H1326.6 V1622.2 H741.8 Z" stroke="#aeaeae" stroke-width="3.0"/>
</g>
<defs><path id="pc2" d="M711.7 1657 L711.7 1650.5 L713.5 1650.5 L714.2 1615.1 L714.9 1589 L715.6 1565.4 L716.3 1543.3 L717 1522.4 L717.7 1502.3 L718.4 1482.8 L719.1 1479.4 L719.8 1477.9 L720.5 1476.5 L721.2 1475.1 L721.9 1473.8 L722.6 1472.7 L723.4 1471.5 L724.1 1470.5 L724.8 1469.5 L725.5 1468.7 L726.2 1467.8 L726.9 1467.1 L727.6 1466.5 L728.3 1465.9 L729 1465.4 L729.7 1465 L730.4 1464.6 L731.1 1464.3 L731.8 1464.2 L732.5 1464 L733.2 1464 L734.3 1509.5 L734.8 1543.3 L735.3 1568.4 L735.8 1587.1 L736.3 1601.2 L736.8 1611.7 L737.3 1619.8 L737.8 1625.9 L738.3 1630.6 L738.8 1634.3 L739.3 1637.2 L739.8 1639.5 L740.3 1641.3 L740.8 1642.8 L741.3 1644 L741.8 1645.1 L743.3 1647.3 L744.8 1648.8 L746.3 1649.8 L747.8 1650.5 L749.3 1650.5 L750.8 1650.5 L752.3 1650.5 L753.8 1650.5 L755.3 1650.5 L756.8 1650.5 L758.3 1650.5 L759.8 1650.5 L761.3 1650.5 L762.8 1650.5 L764.3 1650.5 L765.8 1650.5 L767.3 1650.5 L767.3 1650.5 L768 1613.3 L768.8 1585.7 L769.5 1560.8 L770.3 1537.6 L771 1515.6 L771.7 1494.4 L772.5 1478.3 L773.2 1476.8 L774 1475.3 L774.7 1473.9 L775.4 1472.6 L776.2 1471.3 L776.9 1470.2 L777.6 1469.1 L778.4 1468.1 L779.1 1467.1 L779.9 1466.3 L780.6 1465.5 L781.3 1464.8 L782.1 1464.1 L782.8 1463.5 L783.6 1463.1 L784.3 1462.6 L785 1462.3 L785.8 1462 L786.5 1461.9 L787.3 1461.7 L788 1461.7 L789.1 1507.8 L789.6 1542 L790.1 1567.4 L790.6 1586.3 L791.1 1600.6 L791.6 1611.3 L792.1 1619.4 L792.6 1625.6 L793.1 1630.4 L793.6 1634.1 L794.1 1637 L794.6 1639.3 L795.1 1641.2 L795.6 1642.7 L796.1 1644 L796.6 1645 L798.1 1647.3 L799.6 1648.7 L801.1 1649.8 L802.6 1650.5 L804.1 1650.5 L805.6 1650.5 L807.1 1650.5 L808.6 1650.5 L810.1 1650.5 L811.6 1650.5 L813.1 1650.5 L814.6 1650.5 L816.1 1650.5 L817.6 1650.5 L819.1 1650.5 L820.6 1650.5 L822.1 1650.5 L822.1 1650.5 L822.8 1614.4 L823.6 1587.7 L824.3 1563.6 L825.1 1541.2 L825.8 1519.8 L826.5 1499.3 L827.3 1483.7 L828 1482.2 L828.8 1480.8 L829.5 1479.4 L830.2 1478.1 L831 1476.9 L831.7 1475.8 L832.5 1474.8 L833.2 1473.8 L833.9 1472.9 L834.7 1472 L835.4 1471.2 L836.1 1470.6 L836.9 1469.9 L837.6 1469.4 L838.4 1468.9 L839.1 1468.5 L839.8 1468.2 L840.6 1467.9 L841.3 1467.7 L842.1 1467.6 L842.8 1467.6 L843.9 1512.2 L844.4 1545.3 L844.9 1570 L845.4 1588.3 L845.9 1602.1 L846.4 1612.5 L846.9 1620.4 L847.4 1626.4 L847.9 1631 L848.4 1634.6 L848.9 1637.4 L849.4 1639.7 L849.9 1641.5 L850.4 1643 L850.9 1644.2 L851.4 1645.2 L852.9 1647.4 L854.4 1648.8 L855.9 1649.8 L857.4 1650.5 L858.9 1650.5 L860.4 1650.5 L861.9 1650.5 L863.4 1650.5 L864.9 1650.5 L866.4 1650.5 L867.9 1650.5 L869.4 1650.5 L870.9 1650.5 L872.4 1650.5 L873.9 1650.5 L875.4 1650.5 L876.9 1650.5 L876.9 1650.5 L877.6 1613.1 L878.4 1585.3 L879.1 1560.3 L879.8 1537 L880.6 1514.8 L881.3 1493.5 L882 1476.7 L882.8 1475.2 L883.5 1473.7 L884.3 1472.3 L885 1470.9 L885.7 1469.7 L886.5 1468.5 L887.2 1467.4 L887.9 1466.3 L888.7 1465.4 L889.4 1464.5 L890.1 1463.7 L890.9 1463 L891.6 1462.3 L892.4 1461.8 L893.1 1461.3 L893.8 1460.9 L894.6 1460.5 L895.3 1460.2 L896 1460.1 L896.8 1459.9 L897.5 1459.9 L898.6 1506.4 L899.1 1540.9 L899.6 1566.6 L900.1 1585.7 L900.6 1600.1 L901.1 1610.9 L901.6 1619.1 L902.1 1625.4 L902.6 1630.2 L903.1 1634 L903.6 1636.9 L904.1 1639.2 L904.6 1641.1 L905.1 1642.6 L905.6 1643.9 L906.1 1645 L907.6 1647.2 L909.1 1648.7 L910.6 1649.8 L912.1 1650.5 L913.6 1650.5 L915.1 1650.5 L916.6 1650.5 L918.1 1650.5 L919.6 1650.5 L921.1 1650.5 L922.6 1650.5 L924.1 1650.5 L925.6 1650.5 L927.1 1650.5 L928.6 1650.5 L930.1 1650.5 L931.6 1650.5 L933.1 1650.5 L933.4 1650.5 L933.4 1650.5 L934.1 1618.5 L934.8 1594.8 L935.4 1573.5 L936.1 1553.6 L936.8 1534.6 L937.4 1516.4 L938.1 1498.8 L938.8 1490.9 L939.5 1489.5 L940.1 1488.1 L940.8 1486.8 L941.5 1485.6 L942.2 1484.4 L942.8 1483.4 L943.5 1482.4 L944.2 1481.4 L944.9 1480.6 L945.5 1479.8 L946.2 1479.1 L946.9 1478.5 L947.6 1477.9 L948.2 1477.4 L948.9 1477 L949.6 1476.7 L950.3 1476.4 L950.9 1476.2 L951.6 1476.1 L952.3 1476.1 L953.4 1518.7 L953.9 1550.2 L954.4 1573.7 L954.9 1591.2 L955.4 1604.4 L955.9 1614.3 L956.4 1621.8 L956.9 1627.5 L957.4 1631.9 L957.9 1635.4 L958.4 1638.1 L958.9 1640.2 L959.4 1641.9 L959.9 1643.3 L960.4 1644.5 L960.9 1645.4 L962.4 1647.5 L963.9 1648.9 L965.4 1649.8 L966.9 1650.5 L968.4 1650.5 L969.9 1650.5 L971.4 1650.5 L972.9 1650.5 L974.4 1650.5 L975.9 1650.5 L977.4 1650.5 L978.9 1650.5 L980.4 1650.5 L981.9 1650.5 L983.4 1650.5 L984.9 1650.5 L986.4 1650.5 L986.4 1650.5 L987.1 1617 L987.8 1592.1 L988.5 1569.7 L989.2 1548.8 L989.9 1529 L990.6 1509.9 L991.4 1491.4 L992.1 1488.8 L992.8 1487.4 L993.5 1486 L994.2 1484.8 L994.9 1483.6 L995.6 1482.4 L996.3 1481.4 L997 1480.4 L997.7 1479.5 L998.4 1478.7 L999.1 1477.9 L999.8 1477.2 L1000.5 1476.6 L1001.2 1476.1 L1002 1475.6 L1002.7 1475.2 L1003.4 1474.9 L1004.1 1474.6 L1004.8 1474.4 L1005.5 1474.3 L1006.2 1474.3 L1007.3 1517.3 L1007.8 1549.2 L1008.3 1572.9 L1008.8 1590.6 L1009.3 1603.9 L1009.8 1613.9 L1010.3 1621.5 L1010.8 1627.3 L1011.3 1631.7 L1011.8 1635.2 L1012.3 1637.9 L1012.8 1640.1 L1013.3 1641.8 L1013.8 1643.2 L1014.3 1644.4 L1014.8 1645.4 L1016.3 1647.5 L1017.8 1648.9 L1019.3 1649.8 L1020.8 1650.5 L1022.3 1650.5 L1023.8 1650.5 L1025.3 1650.5 L1026.8 1650.5 L1028.3 1650.5 L1029.8 1650.5 L1031.3 1650.5 L1032.8 1650.5 L1034.3 1650.5 L1035.8 1650.5 L1037.3 1650.5 L1038.8 1650.5 L1040.3 1650.5 L1041.4 1650.5 L1041.4 1650.5 L1042.1 1617.8 L1042.8 1593.5 L1043.4 1571.6 L1044.1 1551.2 L1044.8 1531.8 L1045.5 1513.2 L1046.1 1495.2 L1046.8 1487.1 L1047.5 1485.6 L1048.2 1484.2 L1048.8 1482.9 L1049.5 1481.6 L1050.2 1480.4 L1050.8 1479.3 L1051.5 1478.3 L1052.2 1477.4 L1052.9 1476.5 L1053.5 1475.7 L1054.2 1475 L1054.9 1474.3 L1055.6 1473.8 L1056.2 1473.3 L1056.9 1472.8 L1057.6 1472.5 L1058.3 1472.2 L1059 1472.1 L1059.6 1471.9 L1060.3 1471.9 L1061.4 1515.5 L1061.9 1547.8 L1062.4 1571.9 L1062.9 1589.8 L1063.4 1603.3 L1063.9 1613.4 L1064.4 1621.1 L1064.9 1627 L1065.4 1631.5 L1065.9 1635 L1066.4 1637.8 L1066.9 1639.9 L1067.4 1641.7 L1067.9 1643.1 L1068.4 1644.3 L1068.9 1645.3 L1070.4 1647.4 L1071.9 1648.8 L1073.4 1649.8 L1074.9 1650.5 L1076.4 1650.5 L1077.9 1650.5 L1079.4 1650.5 L1080.9 1650.5 L1082.4 1650.5 L1083.9 1650.5 L1085.4 1650.5 L1086.9 1650.5 L1088.4 1650.5 L1089.9 1650.5 L1091.4 1650.5 L1092.9 1650.5 L1094.4 1650.5 L1095.9 1650.5 L1096.2 1650.5 L1096.2 1650.5 L1096.9 1608.9 L1097.6 1578.1 L1098.3 1550.4 L1099 1524.5 L1099.7 1499.9 L1100.4 1476.2 L1101.1 1453.3 L1101.8 1449.3 L1102.5 1447.5 L1103.2 1445.8 L1103.9 1444.3 L1104.6 1442.8 L1105.3 1441.4 L1106.1 1440.1 L1106.8 1438.8 L1107.5 1437.7 L1108.2 1436.7 L1108.9 1435.7 L1109.6 1434.9 L1110.3 1434.1 L1111 1433.4 L1111.7 1432.8 L1112.4 1432.3 L1113.1 1431.9 L1113.8 1431.6 L1114.5 1431.4 L1115.2 1431.2 L1115.9 1431.2 L1117 1484.7 L1117.5 1524.4 L1118 1553.9 L1118.5 1576 L1119 1592.5 L1119.5 1604.9 L1120 1614.4 L1120.5 1621.6 L1121 1627.1 L1121.5 1631.5 L1122 1634.9 L1122.5 1637.5 L1123 1639.7 L1123.5 1641.5 L1124 1642.9 L1124.5 1644.1 L1126 1646.7 L1127.5 1648.5 L1129 1649.7 L1130.5 1650.5 L1132 1650.5 L1133.5 1650.5 L1135 1650.5 L1136.5 1650.5 L1138 1650.5 L1139.5 1650.5 L1141 1650.5 L1142.5 1650.5 L1144 1650.5 L1145.5 1650.5 L1147 1650.5 L1148.5 1650.5 L1150 1650.5 L1150.1 1650.5 L1150.1 1650.5 L1150.8 1606.4 L1151.5 1573.8 L1152.2 1544.4 L1152.9 1517 L1153.6 1490.9 L1154.3 1465.8 L1155 1441.6 L1155.7 1437.3 L1156.4 1435.4 L1157.1 1433.6 L1157.8 1431.9 L1158.5 1430.4 L1159.2 1428.9 L1159.9 1427.5 L1160.7 1426.2 L1161.4 1425 L1162.1 1423.9 L1162.8 1422.9 L1163.5 1422 L1164.2 1421.2 L1164.9 1420.4 L1165.6 1419.8 L1166.3 1419.3 L1167 1418.9 L1167.7 1418.5 L1168.4 1418.3 L1169.1 1418.1 L1169.8 1418.1 L1170.9 1474.8 L1171.4 1516.9 L1171.9 1548.2 L1172.4 1571.5 L1172.9 1589 L1173.4 1602.2 L1173.9 1612.2 L1174.4 1619.9 L1174.9 1625.7 L1175.4 1630.3 L1175.9 1633.9 L1176.4 1636.8 L1176.9 1639.1 L1177.4 1640.9 L1177.9 1642.5 L1178.4 1643.7 L1179.9 1646.5 L1181.4 1648.3 L1182.9 1649.6 L1184.4 1650.5 L1185.9 1650.5 L1187.4 1650.5 L1188.9 1650.5 L1190.4 1650.5 L1191.9 1650.5 L1193.4 1650.5 L1194.9 1650.5 L1196.4 1650.5 L1197.9 1650.5 L1199.4 1650.5 L1200.9 1650.5 L1202.4 1650.5 L1203.9 1650.5 L1203.9 1650.5 L1204.6 1603 L1205.4 1567.8 L1206.1 1536.1 L1206.9 1506.5 L1207.6 1478.3 L1208.3 1451.3 L1209.1 1430.8 L1209.8 1428.8 L1210.6 1427 L1211.3 1425.2 L1212 1423.5 L1212.8 1421.9 L1213.5 1420.4 L1214.2 1419 L1215 1417.7 L1215.7 1416.5 L1216.5 1415.4 L1217.2 1414.4 L1217.9 1413.5 L1218.7 1412.7 L1219.4 1412 L1220.2 1411.3 L1220.9 1410.8 L1221.6 1410.4 L1222.4 1410 L1223.1 1409.8 L1223.9 1409.6 L1224.6 1409.6 L1225.7 1468.4 L1226.2 1512 L1226.7 1544.4 L1227.2 1568.6 L1227.7 1586.8 L1228.2 1600.4 L1228.7 1610.8 L1229.2 1618.7 L1229.7 1624.8 L1230.2 1629.6 L1230.7 1633.3 L1231.2 1636.3 L1231.7 1638.6 L1232.2 1640.6 L1232.7 1642.2 L1233.2 1643.5 L1234.7 1646.4 L1236.2 1648.3 L1237.7 1649.6 L1239.2 1650.5 L1240.7 1650.5 L1242.2 1650.5 L1243.7 1650.5 L1245.2 1650.5 L1246.7 1650.5 L1248.2 1650.5 L1249.7 1650.5 L1251.2 1650.5 L1252.7 1650.5 L1254.2 1650.5 L1255.7 1650.5 L1257.2 1650.5 L1258.7 1650.5 L1258.7 1650.5 L1259.5 1599.5 L1260.2 1561.8 L1261 1527.8 L1261.8 1496 L1262.5 1465.8 L1263.3 1436.8 L1264.1 1421.3 L1264.8 1419.3 L1265.6 1417.4 L1266.4 1415.6 L1267.1 1413.9 L1267.9 1412.3 L1268.7 1410.8 L1269.5 1409.4 L1270.2 1408.1 L1271 1406.8 L1271.8 1405.7 L1272.5 1404.7 L1273.3 1403.8 L1274.1 1402.9 L1274.8 1402.2 L1275.6 1401.6 L1276.4 1401 L1277.1 1400.6 L1277.9 1400.2 L1278.7 1400 L1279.4 1399.8 L1280.2 1399.8 L1281.3 1461 L1281.8 1506.4 L1282.3 1540.1 L1282.8 1565.3 L1283.3 1584.2 L1283.8 1598.4 L1284.3 1609.2 L1284.8 1617.4 L1285.3 1623.8 L1285.8 1628.7 L1286.3 1632.6 L1286.8 1635.7 L1287.3 1638.2 L1287.8 1640.2 L1288.3 1641.8 L1288.8 1643.2 L1290.3 1646.2 L1291.8 1648.2 L1293.3 1649.5 L1294.8 1650.5 L1296.3 1650.5 L1297.8 1650.5 L1299.3 1650.5 L1300.8 1650.5 L1302.3 1650.5 L1303.8 1650.5 L1305.3 1650.5 L1306.8 1650.5 L1308.3 1650.5 L1309.8 1650.5 L1311.3 1650.5 L1312 1650.5 L1312 1657 Z"/><clipPath id="cc2"><use href="#pc2"/></clipPath></defs>
<use href="#pc2" fill="url(#gc2)"/>
<use href="#pc2" fill="none" stroke="#3a58c4" stroke-width="7" stroke-opacity="0.45" clip-path="url(#cc2)"/>
<use href="#pc2" fill="none" stroke="#3450b4" stroke-width="1.9" stroke-linejoin="round" stroke-opacity="1"/>
<defs><path id="pc1" d="M527.5 1870.3 L527.5 1864 L529.6 1864 L530.4 1809.8 L531.3 1769.6 L532.1 1733.4 L533 1699.6 L533.8 1667.4 L534.6 1666.2 L535.5 1665.2 L536.3 1664.2 L537.2 1663.2 L538 1662.3 L538.8 1661.4 L539.7 1660.5 L540.5 1659.7 L541.4 1658.9 L542.2 1658.1 L543 1657.4 L543.9 1656.7 L544.7 1656.1 L545.5 1655.5 L546.4 1655 L547.2 1654.5 L548.1 1654 L548.9 1653.6 L549.7 1653.3 L550.6 1653 L551.4 1652.7 L552.3 1652.6 L553.1 1652.5 L554.2 1706.6 L554.7 1746 L555.2 1774.6 L555.7 1795.6 L556.2 1811 L556.7 1822.5 L557.2 1831 L557.7 1837.4 L558.2 1842.3 L558.7 1846.1 L559.2 1849.1 L559.7 1851.4 L560.2 1853.3 L560.7 1854.9 L561.2 1856.1 L561.7 1857.2 L563.2 1859.7 L564.7 1861.3 L566.2 1862.5 L567.7 1863.4 L569.2 1864 L570.7 1864 L572.2 1864 L573.7 1864 L575.2 1864 L576.7 1864 L578.2 1864 L579.7 1864 L581.2 1864 L582.7 1864 L584.2 1864 L585.7 1864 L587.2 1864 L588.7 1864 L590.2 1864 L591.7 1864 L592.5 1864 L592.5 1864 L593.3 1807 L594.2 1764.8 L595 1726.8 L595.9 1691.3 L596.7 1657.5 L597.5 1656.2 L598.4 1655.1 L599.2 1654.1 L600.1 1653 L600.9 1652.1 L601.7 1651.1 L602.6 1650.2 L603.4 1649.3 L604.2 1648.5 L605.1 1647.7 L605.9 1646.9 L606.8 1646.2 L607.6 1645.6 L608.4 1645 L609.3 1644.4 L610.1 1643.9 L611 1643.4 L611.8 1643 L612.6 1642.6 L613.5 1642.3 L614.3 1642 L615.2 1641.9 L616 1641.8 L617.1 1698.7 L617.6 1740 L618.1 1770.1 L618.6 1792.1 L619.1 1808.4 L619.6 1820.4 L620.1 1829.3 L620.6 1836.1 L621.1 1841.2 L621.6 1845.2 L622.1 1848.3 L622.6 1850.8 L623.1 1852.8 L623.6 1854.4 L624.1 1855.7 L624.6 1856.9 L626.1 1859.4 L627.6 1861.2 L629.1 1862.5 L630.6 1863.4 L632.1 1864 L633.6 1864 L635.1 1864 L636.6 1864 L638.1 1864 L639.6 1864 L641.1 1864 L642.6 1864 L644.1 1864 L645.6 1864 L647.1 1864 L648.6 1864 L650.1 1864 L651.6 1864 L653.1 1864 L654.6 1864 L655.4 1864 L655.4 1864 L656.2 1805.7 L657.1 1762.4 L657.9 1723.5 L658.8 1687.1 L659.6 1652.6 L660.4 1651.3 L661.3 1650.1 L662.1 1649.1 L663 1648 L663.8 1647 L664.6 1646 L665.5 1645.1 L666.3 1644.2 L667.1 1643.4 L668 1642.5 L668.8 1641.8 L669.7 1641 L670.5 1640.4 L671.3 1639.7 L672.2 1639.1 L673 1638.6 L673.9 1638.1 L674.7 1637.7 L675.5 1637.3 L676.4 1637 L677.2 1636.8 L678.1 1636.6 L678.9 1636.5 L680 1694.7 L680.5 1737 L681 1767.9 L681.5 1790.4 L682 1807 L682.5 1819.3 L683 1828.5 L683.5 1835.4 L684 1840.7 L684.5 1844.8 L685 1847.9 L685.5 1850.5 L686 1852.5 L686.5 1854.2 L687 1855.5 L687.5 1856.7 L689 1859.3 L690.5 1861.1 L692 1862.4 L693.5 1863.4 L695 1864 L696.5 1864 L698 1864 L699.5 1864 L701 1864 L702.5 1864 L704 1864 L705.5 1864 L707 1864 L708.5 1864 L710 1864 L711.5 1864 L713 1864 L714.5 1864 L716 1864 L717.5 1864 L718.3 1864 L718.3 1864 L719.1 1804 L720 1759.6 L720.8 1719.5 L721.7 1682.2 L722.5 1646.6 L723.3 1645.3 L724.2 1644.1 L725 1643 L725.9 1641.9 L726.7 1640.9 L727.5 1639.9 L728.4 1638.9 L729.2 1638 L730 1637.1 L730.9 1636.3 L731.7 1635.5 L732.6 1634.8 L733.4 1634.1 L734.2 1633.4 L735.1 1632.8 L735.9 1632.3 L736.8 1631.8 L737.6 1631.3 L738.4 1630.9 L739.3 1630.6 L740.1 1630.4 L741 1630.2 L741.8 1630.1 L742.9 1690 L743.4 1733.5 L743.9 1765.2 L744.4 1788.4 L744.9 1805.4 L745.4 1818.1 L745.9 1827.5 L746.4 1834.6 L746.9 1840 L747.4 1844.2 L747.9 1847.5 L748.4 1850.1 L748.9 1852.2 L749.4 1853.9 L749.9 1855.3 L750.4 1856.5 L751.9 1859.2 L753.4 1861 L754.9 1862.4 L756.4 1863.4 L757.9 1864 L759.4 1864 L760.9 1864 L762.4 1864 L763.9 1864 L765.4 1864 L766.9 1864 L768.4 1864 L769.9 1864 L771.4 1864 L772.9 1864 L774.4 1864 L775.9 1864 L777.4 1864 L778.9 1864 L780.4 1864 L781.2 1864 L781.2 1864 L782 1803.2 L782.9 1758.1 L783.7 1717.6 L784.6 1679.7 L785.4 1643.6 L786.2 1642.3 L787.1 1641.1 L787.9 1640 L788.8 1638.9 L789.6 1637.8 L790.4 1636.8 L791.3 1635.9 L792.1 1634.9 L793 1634 L793.8 1633.2 L794.6 1632.4 L795.5 1631.6 L796.3 1630.9 L797.1 1630.3 L798 1629.7 L798.8 1629.1 L799.7 1628.6 L800.5 1628.1 L801.3 1627.7 L802.2 1627.4 L803 1627.2 L803.9 1627 L804.7 1626.9 L805.8 1687.6 L806.3 1731.7 L806.8 1763.8 L807.3 1787.3 L807.8 1804.6 L808.3 1817.4 L808.8 1827 L809.3 1834.2 L809.8 1839.7 L810.3 1844 L810.8 1847.3 L811.3 1849.9 L811.8 1852 L812.3 1853.8 L812.8 1855.2 L813.3 1856.4 L814.8 1859.1 L816.3 1861 L817.8 1862.3 L819.3 1863.4 L820.8 1864 L822.3 1864 L823.8 1864 L825.3 1864 L826.8 1864 L828.3 1864 L829.8 1864 L831.3 1864 L832.8 1864 L834.3 1864 L835.8 1864 L837.3 1864 L838.8 1864 L840.3 1864 L841.8 1864 L843.3 1864 L844.2 1864 L844.2 1864 L845 1802.3 L845.9 1756.6 L846.7 1715.5 L847.5 1677 L848.4 1640.5 L849.2 1638.4 L850.1 1637.2 L850.9 1636 L851.7 1634.9 L852.6 1633.9 L853.4 1632.8 L854.2 1631.8 L855.1 1630.9 L855.9 1630 L856.7 1629.1 L857.6 1628.3 L858.4 1627.5 L859.2 1626.8 L860.1 1626.1 L860.9 1625.5 L861.8 1624.9 L862.6 1624.4 L863.4 1624 L864.3 1623.6 L865.1 1623.2 L865.9 1623 L866.8 1622.8 L867.6 1622.7 L868.7 1684.5 L869.2 1729.3 L869.7 1762 L870.2 1786 L870.7 1803.6 L871.2 1816.6 L871.7 1826.4 L872.2 1833.7 L872.7 1839.3 L873.2 1843.6 L873.7 1847 L874.2 1849.7 L874.7 1851.8 L875.2 1853.6 L875.7 1855 L876.2 1856.3 L877.7 1859 L879.2 1860.9 L880.7 1862.3 L882.2 1863.4 L883.7 1864 L885.2 1864 L886.7 1864 L888.2 1864 L889.7 1864 L891.2 1864 L892.7 1864 L894.2 1864 L895.7 1864 L897.2 1864 L898.7 1864 L900.2 1864 L901.7 1864 L903.2 1864 L904.7 1864 L906.2 1864 L907.7 1864 L907.7 1864 L908.5 1804.7 L909.3 1760.7 L910.1 1721.2 L910.9 1684.2 L911.7 1649.1 L912.5 1639.6 L913.3 1638.4 L914.1 1637.2 L914.9 1636.1 L915.7 1635 L916.5 1634 L917.3 1632.9 L918.1 1632 L918.9 1631.1 L919.7 1630.2 L920.5 1629.4 L921.3 1628.6 L922.1 1627.9 L922.9 1627.2 L923.7 1626.5 L924.5 1626 L925.3 1625.4 L926.1 1625 L926.9 1624.6 L927.7 1624.2 L928.5 1624 L929.3 1623.8 L930.1 1623.7 L931.2 1685.2 L931.7 1729.9 L932.2 1762.5 L932.7 1786.3 L933.2 1803.8 L933.7 1816.8 L934.2 1826.5 L934.7 1833.8 L935.2 1839.4 L935.7 1843.7 L936.2 1847 L936.7 1849.7 L937.2 1851.9 L937.7 1853.6 L938.2 1855.1 L938.7 1856.3 L940.2 1859.1 L941.7 1861 L943.2 1862.3 L944.7 1863.4 L946.2 1864 L947.7 1864 L949.2 1864 L950.7 1864 L952.2 1864 L953.7 1864 L955.2 1864 L956.7 1864 L958.2 1864 L959.7 1864 L961.2 1864 L962.7 1864 L964.2 1864 L965.7 1864 L967.2 1864 L968.7 1864 L969.6 1864 L969.6 1864 L970.4 1798 L971.3 1749 L972.1 1705 L972.9 1663.8 L973.8 1624.7 L974.6 1622.4 L975.5 1621.1 L976.3 1619.9 L977.1 1618.7 L978 1617.5 L978.8 1616.4 L979.6 1615.4 L980.5 1614.4 L981.3 1613.4 L982.1 1612.5 L983 1611.6 L983.8 1610.8 L984.6 1610 L985.5 1609.3 L986.3 1608.6 L987.1 1608 L988 1607.4 L988.8 1607 L989.7 1606.5 L990.5 1606.2 L991.3 1605.9 L992.2 1605.7 L993 1605.6 L994.1 1671.8 L994.6 1719.8 L995.1 1754.8 L995.6 1780.4 L996.1 1799.3 L996.6 1813.3 L997.1 1823.7 L997.6 1831.6 L998.1 1837.5 L998.6 1842.2 L999.1 1845.8 L999.6 1848.6 L1000.1 1850.9 L1000.6 1852.8 L1001.1 1854.4 L1001.6 1855.7 L1003.1 1858.7 L1004.6 1860.7 L1006.1 1862.2 L1007.6 1863.3 L1009.1 1864 L1010.6 1864 L1012.1 1864 L1013.6 1864 L1015.1 1864 L1016.6 1864 L1018.1 1864 L1019.6 1864 L1021.1 1864 L1022.6 1864 L1024.1 1864 L1025.6 1864 L1027.1 1864 L1028.6 1864 L1030.1 1864 L1031.6 1864 L1032.5 1864 L1032.5 1864 L1033.3 1792.5 L1034.2 1739.5 L1035 1691.8 L1035.8 1647.3 L1036.7 1604.9 L1037.5 1602.5 L1038.3 1601.1 L1039.2 1599.8 L1040 1598.5 L1040.9 1597.2 L1041.7 1596 L1042.5 1594.9 L1043.4 1593.8 L1044.2 1592.7 L1045 1591.7 L1045.9 1590.8 L1046.7 1589.9 L1047.5 1589.1 L1048.4 1588.3 L1049.2 1587.6 L1050.1 1586.9 L1050.9 1586.3 L1051.7 1585.8 L1052.6 1585.3 L1053.4 1584.9 L1054.2 1584.6 L1055.1 1584.4 L1055.9 1584.3 L1057 1655.9 L1057.5 1707.9 L1058 1745.8 L1058.5 1773.5 L1059 1794 L1059.5 1809.1 L1060 1820.4 L1060.5 1828.9 L1061 1835.4 L1061.5 1840.4 L1062 1844.3 L1062.5 1847.4 L1063 1849.9 L1063.5 1851.9 L1064 1853.6 L1064.5 1855 L1066 1858.3 L1067.5 1860.5 L1069 1862.1 L1070.5 1863.3 L1072 1864 L1073.5 1864 L1075 1864 L1076.5 1864 L1078 1864 L1079.5 1864 L1081 1864 L1082.5 1864 L1084 1864 L1085.5 1864 L1087 1864 L1088.5 1864 L1090 1864 L1091.5 1864 L1093 1864 L1094.5 1864 L1096 1864 L1096.5 1864 L1096.5 1864 L1097.3 1793.4 L1098.1 1741.1 L1098.9 1694 L1099.7 1650 L1100.5 1608.2 L1101.3 1596.9 L1102.1 1595.5 L1102.9 1594.1 L1103.7 1592.7 L1104.5 1591.4 L1105.3 1590.2 L1106.1 1589 L1106.9 1587.9 L1107.7 1586.8 L1108.5 1585.7 L1109.3 1584.7 L1110.1 1583.8 L1110.9 1582.9 L1111.7 1582.1 L1112.5 1581.4 L1113.3 1580.7 L1114.1 1580.1 L1114.9 1579.5 L1115.7 1579 L1116.5 1578.6 L1117.3 1578.3 L1118.1 1578.1 L1118.9 1578 L1120 1651.2 L1120.5 1704.4 L1121 1743.1 L1121.5 1771.5 L1122 1792.4 L1122.5 1807.8 L1123 1819.4 L1123.5 1828.1 L1124 1834.7 L1124.5 1839.8 L1125 1843.8 L1125.5 1847 L1126 1849.5 L1126.5 1851.6 L1127 1853.4 L1127.5 1854.8 L1129 1858.1 L1130.5 1860.4 L1132 1862 L1133.5 1863.2 L1135 1864 L1136.5 1864 L1138 1864 L1139.5 1864 L1141 1864 L1142.5 1864 L1144 1864 L1145.5 1864 L1147 1864 L1148.5 1864 L1150 1864 L1151.5 1864 L1153 1864 L1154.5 1864 L1156 1864 L1157.5 1864 L1158.3 1864 L1158.3 1864 L1159.1 1790.2 L1159.9 1735.5 L1160.7 1686.3 L1161.5 1640.3 L1162.3 1596.6 L1163.1 1584.8 L1163.9 1583.3 L1164.7 1581.8 L1165.5 1580.4 L1166.3 1579.1 L1167.1 1577.8 L1167.9 1576.5 L1168.7 1575.3 L1169.5 1574.2 L1170.3 1573.1 L1171.1 1572.1 L1171.9 1571.1 L1172.7 1570.2 L1173.5 1569.3 L1174.3 1568.5 L1175.1 1567.8 L1175.9 1567.2 L1176.7 1566.6 L1177.5 1566.1 L1178.3 1565.7 L1179.1 1565.3 L1179.9 1565.1 L1180.7 1565 L1181.8 1641.5 L1182.3 1697.1 L1182.8 1737.6 L1183.3 1767.3 L1183.8 1789.1 L1184.3 1805.3 L1184.8 1817.4 L1185.3 1826.5 L1185.8 1833.4 L1186.3 1838.7 L1186.8 1842.9 L1187.3 1846.2 L1187.8 1848.9 L1188.3 1851.1 L1188.8 1852.9 L1189.3 1854.4 L1190.8 1857.9 L1192.3 1860.2 L1193.8 1861.9 L1195.3 1863.2 L1196.8 1864 L1198.3 1864 L1199.8 1864 L1201.3 1864 L1202.8 1864 L1204.3 1864 L1205.8 1864 L1207.3 1864 L1208.8 1864 L1210.3 1864 L1211.8 1864 L1213.3 1864 L1214.8 1864 L1216.3 1864 L1217.8 1864 L1219.3 1864 L1220.5 1864 L1220.5 1870.3 Z"/><clipPath id="cc1"><use href="#pc1"/></clipPath></defs>
<use href="#pc1" fill="url(#gc1)"/>
<use href="#pc1" fill="url(#hc1)"/>
<use href="#pc1" fill="none" stroke="#5aa0d8" stroke-width="5" stroke-opacity="0.3" clip-path="url(#cc1)"/>
<use href="#pc1" fill="none" stroke="#5b9fd2" stroke-width="1.5" stroke-linejoin="round" stroke-opacity="0.9"/>
<defs><path id="pc0" d="M280.2 2160.2 L280.2 2156 L283.6 2156 L284.5 2118.7 L285.4 2091 L286.2 2066.2 L287.1 2042.9 L288 2030.6 L288.9 2029.9 L289.8 2029.2 L290.7 2028.5 L291.5 2027.9 L292.4 2027.4 L293.3 2026.8 L294.2 2026.4 L295.1 2026 L296 2025.6 L296.8 2025.3 L297.7 2025 L298.6 2024.7 L299.5 2024.5 L300.4 2024.3 L301.2 2024.1 L302.1 2024 L303 2023.9 L303.9 2023.8 L304.8 2023.8 L305.7 2023.7 L306.5 2023.7 L307.4 2023.7 L308.3 2023.7 L309.4 2042.3 L309.9 2057.8 L310.4 2070.7 L310.9 2081.5 L311.4 2090.6 L311.9 2098.2 L312.4 2104.6 L312.9 2110 L313.4 2114.5 L313.9 2118.4 L314.4 2121.8 L314.9 2124.6 L315.4 2127.1 L315.9 2129.2 L316.4 2131 L316.9 2132.7 L318.4 2136.5 L319.9 2139.3 L321.4 2141.5 L322.9 2143.2 L324.4 2144.6 L325.9 2145.9 L327.4 2147 L328.9 2148 L330.4 2148.8 L331.9 2149.6 L333.4 2150.4 L334.9 2151 L336.4 2151.6 L337.9 2152.1 L339.4 2152.6 L340.9 2153.1 L342.4 2153.5 L343.9 2153.9 L345.4 2154.2 L346.9 2154.5 L348.4 2154.8 L349.9 2155 L351.4 2155.3 L352.9 2155.5 L354.4 2155.7 L355.9 2155.8 L357.4 2156 L357.8 2156 L357.8 2156 L358.7 2115.2 L359.7 2084.9 L360.6 2057.7 L361.5 2032.2 L362.4 2023.7 L363.4 2022.9 L364.3 2022.2 L365.2 2021.5 L366.1 2020.9 L367.1 2020.4 L368 2019.8 L368.9 2019.4 L369.8 2018.9 L370.8 2018.6 L371.7 2018.2 L372.6 2017.9 L373.5 2017.6 L374.4 2017.4 L375.4 2017.2 L376.3 2017.1 L377.2 2016.9 L378.1 2016.8 L379.1 2016.7 L380 2016.7 L380.9 2016.6 L381.8 2016.6 L382.8 2016.6 L383.7 2016.6 L384.8 2036.2 L385.3 2052.5 L385.8 2066.1 L386.3 2077.5 L386.8 2087.1 L387.3 2095.1 L387.8 2101.8 L388.3 2107.5 L388.8 2112.3 L389.3 2116.4 L389.8 2119.9 L390.3 2122.9 L390.8 2125.5 L391.3 2127.8 L391.8 2129.7 L392.3 2131.4 L393.8 2135.5 L395.3 2138.4 L396.8 2140.7 L398.3 2142.5 L399.8 2144 L401.3 2145.3 L402.8 2146.5 L404.3 2147.5 L405.8 2148.5 L407.3 2149.3 L408.8 2150.1 L410.3 2150.7 L411.8 2151.4 L413.3 2151.9 L414.8 2152.4 L416.3 2152.9 L417.8 2153.3 L419.3 2153.7 L420.8 2154.1 L422.3 2154.4 L423.8 2154.7 L425.3 2155 L426.8 2155.2 L428.3 2155.4 L429.8 2155.6 L431.3 2155.8 L432 2155.9 L432 2156 L432.9 2115.2 L433.8 2085 L434.7 2057.8 L435.5 2032.4 L436.4 2019.4 L437.3 2018.6 L438.2 2017.8 L439.1 2017.1 L440 2016.5 L440.9 2015.9 L441.7 2015.3 L442.6 2014.8 L443.5 2014.4 L444.4 2014 L445.3 2013.6 L446.2 2013.3 L447.1 2013 L447.9 2012.8 L448.8 2012.6 L449.7 2012.4 L450.6 2012.2 L451.5 2012.1 L452.4 2012 L453.3 2012 L454.1 2011.9 L455 2011.9 L455.9 2011.9 L456.8 2011.9 L457.9 2032.2 L458.4 2049 L458.9 2063.1 L459.4 2074.9 L459.9 2084.7 L460.4 2093 L460.9 2100 L461.4 2105.9 L461.9 2110.8 L462.4 2115.1 L462.9 2118.7 L463.4 2121.8 L463.9 2124.5 L464.4 2126.8 L464.9 2128.8 L465.4 2130.6 L466.9 2134.8 L468.4 2137.8 L469.9 2140.2 L471.4 2142 L472.9 2143.6 L474.4 2145 L475.9 2146.2 L477.4 2147.3 L478.9 2148.2 L480.4 2149.1 L481.9 2149.9 L483.4 2150.6 L484.9 2151.2 L486.4 2151.8 L487.9 2152.3 L489.4 2152.8 L490.9 2153.3 L492.4 2153.7 L493.9 2154 L495.4 2154.4 L496.9 2154.7 L498.4 2154.9 L499.9 2155.2 L501.4 2155.4 L502.9 2155.6 L504.4 2155.8 L505.9 2156 L507 2156 L507 2156 L507.9 2114.7 L508.7 2084 L509.6 2056.5 L510.4 2030.7 L511.3 2013.9 L512.1 2013.1 L513 2012.3 L513.9 2011.5 L514.7 2010.8 L515.6 2010.2 L516.4 2009.6 L517.3 2009.1 L518.1 2008.6 L519 2008.2 L519.9 2007.8 L520.7 2007.5 L521.6 2007.2 L522.4 2006.9 L523.3 2006.7 L524.1 2006.5 L525 2006.4 L525.9 2006.2 L526.7 2006.2 L527.6 2006.1 L528.4 2006 L529.3 2006 L530.1 2006 L531 2006 L532.1 2027.1 L532.6 2044.7 L533.1 2059.3 L533.6 2071.6 L534.1 2081.8 L534.6 2090.4 L535.1 2097.7 L535.6 2103.8 L536.1 2109 L536.6 2113.4 L537.1 2117.2 L537.6 2120.4 L538.1 2123.2 L538.6 2125.6 L539.1 2127.7 L539.6 2129.6 L541.1 2133.9 L542.6 2137.1 L544.1 2139.5 L545.6 2141.5 L547.1 2143.1 L548.6 2144.5 L550.1 2145.8 L551.6 2146.9 L553.1 2147.9 L554.6 2148.8 L556.1 2149.6 L557.6 2150.3 L559.1 2151 L560.6 2151.6 L562.1 2152.2 L563.6 2152.7 L565.1 2153.1 L566.6 2153.6 L568.1 2153.9 L569.6 2154.3 L571.1 2154.6 L572.6 2154.9 L574.1 2155.2 L575.6 2155.4 L577.1 2155.6 L578.6 2155.8 L580.1 2156 L581.6 2156 L581.7 2156 L581.7 2156 L582.5 2115.2 L583.4 2085 L584.2 2057.8 L585.1 2032.4 L585.9 2014 L586.8 2013.1 L587.6 2012.3 L588.4 2011.6 L589.3 2010.9 L590.1 2010.2 L591 2009.7 L591.8 2009.1 L592.7 2008.6 L593.5 2008.2 L594.3 2007.8 L595.2 2007.5 L596 2007.2 L596.9 2006.9 L597.7 2006.7 L598.6 2006.5 L599.4 2006.4 L600.2 2006.2 L601.1 2006.2 L601.9 2006.1 L602.8 2006 L603.6 2006 L604.5 2006 L605.3 2006 L606.4 2027.1 L606.9 2044.7 L607.4 2059.3 L607.9 2071.6 L608.4 2081.8 L608.9 2090.4 L609.4 2097.7 L609.9 2103.8 L610.4 2109 L610.9 2113.4 L611.4 2117.2 L611.9 2120.4 L612.4 2123.2 L612.9 2125.6 L613.4 2127.7 L613.9 2129.6 L615.4 2133.9 L616.9 2137.1 L618.4 2139.5 L619.9 2141.5 L621.4 2143.1 L622.9 2144.5 L624.4 2145.8 L625.9 2146.9 L627.4 2147.9 L628.9 2148.8 L630.4 2149.6 L631.9 2150.3 L633.4 2151 L634.9 2151.6 L636.4 2152.2 L637.9 2152.7 L639.4 2153.1 L640.9 2153.6 L642.4 2153.9 L643.9 2154.3 L645.4 2154.6 L646.9 2154.9 L648.4 2155.2 L649.9 2155.4 L651.4 2155.6 L652.9 2155.8 L654.4 2156 L655.9 2156 L656 2156 L656 2156 L656.8 2114.2 L657.7 2083.3 L658.5 2055.4 L659.3 2029.4 L660.2 2009.6 L661 2008.7 L661.9 2007.9 L662.7 2007.1 L663.5 2006.4 L664.4 2005.7 L665.2 2005.1 L666 2004.5 L666.9 2004 L667.7 2003.6 L668.5 2003.2 L669.4 2002.8 L670.2 2002.5 L671 2002.3 L671.9 2002 L672.7 2001.8 L673.5 2001.7 L674.4 2001.6 L675.2 2001.5 L676.1 2001.4 L676.9 2001.3 L677.7 2001.3 L678.6 2001.3 L679.4 2001.3 L680.5 2023 L681 2041.2 L681.5 2056.3 L682 2068.9 L682.5 2079.5 L683 2088.4 L683.5 2095.9 L684 2102.2 L684.5 2107.5 L685 2112.1 L685.5 2116 L686 2119.3 L686.5 2122.2 L687 2124.7 L687.5 2126.8 L688 2128.7 L689.5 2133.2 L691 2136.5 L692.5 2139 L694 2141 L695.5 2142.7 L697 2144.2 L698.5 2145.5 L700 2146.6 L701.5 2147.6 L703 2148.6 L704.5 2149.4 L706 2150.2 L707.5 2150.9 L709 2151.5 L710.5 2152.1 L712 2152.6 L713.5 2153.1 L715 2153.5 L716.5 2153.9 L718 2154.2 L719.5 2154.6 L721 2154.9 L722.5 2155.1 L724 2155.4 L725.5 2155.6 L727 2155.8 L728.5 2156 L728.9 2156 L728.9 2156 L729.8 2107.4 L730.7 2071.3 L731.6 2038.9 L732.4 2008.6 L733.3 1993.1 L734.2 1992.1 L735.1 1991.2 L736 1990.3 L736.9 1989.6 L737.8 1988.8 L738.6 1988.2 L739.5 1987.6 L740.4 1987 L741.3 1986.6 L742.2 1986.1 L743.1 1985.8 L744 1985.4 L744.8 1985.1 L745.7 1984.9 L746.6 1984.7 L747.5 1984.5 L748.4 1984.4 L749.3 1984.3 L750.2 1984.2 L751 1984.1 L751.9 1984.1 L752.8 1984.1 L753.7 1984.1 L754.8 2008.3 L755.3 2028.4 L755.8 2045.2 L756.3 2059.2 L756.8 2071 L757.3 2080.9 L757.8 2089.2 L758.3 2096.2 L758.8 2102.1 L759.3 2107.2 L759.8 2111.5 L760.3 2115.2 L760.8 2118.4 L761.3 2121.2 L761.8 2123.6 L762.3 2125.7 L763.8 2130.7 L765.3 2134.3 L766.8 2137.1 L768.3 2139.4 L769.8 2141.2 L771.3 2142.9 L772.8 2144.3 L774.3 2145.6 L775.8 2146.7 L777.3 2147.7 L778.8 2148.7 L780.3 2149.5 L781.8 2150.3 L783.3 2151 L784.8 2151.6 L786.3 2152.2 L787.8 2152.7 L789.3 2153.2 L790.8 2153.6 L792.3 2154 L793.8 2154.4 L795.3 2154.7 L796.8 2155 L798.3 2155.3 L799.8 2155.6 L801.3 2155.8 L802.8 2156 L804.3 2156 L804.3 2156 L805.1 2105 L806 2067.1 L806.8 2033.1 L807.7 2001.3 L808.5 1978.3 L809.4 1977.2 L810.2 1976.2 L811 1975.3 L811.9 1974.4 L812.7 1973.6 L813.6 1972.9 L814.4 1972.2 L815.3 1971.6 L816.1 1971.1 L816.9 1970.6 L817.8 1970.1 L818.6 1969.8 L819.5 1969.5 L820.3 1969.2 L821.2 1968.9 L822 1968.8 L822.8 1968.6 L823.7 1968.5 L824.5 1968.4 L825.4 1968.4 L826.2 1968.3 L827.1 1968.3 L827.9 1968.3 L829 1994.7 L829.5 2016.7 L830 2035 L830.5 2050.3 L831 2063.2 L831.5 2074 L832 2083 L832.5 2090.7 L833 2097.2 L833.5 2102.7 L834 2107.4 L834.5 2111.5 L835 2114.9 L835.5 2118 L836 2120.6 L836.5 2122.9 L838 2128.4 L839.5 2132.3 L841 2135.4 L842.5 2137.8 L844 2139.9 L845.5 2141.7 L847 2143.2 L848.5 2144.6 L850 2145.9 L851.5 2147 L853 2148 L854.5 2148.9 L856 2149.8 L857.5 2150.5 L859 2151.2 L860.5 2151.9 L862 2152.4 L863.5 2153 L865 2153.4 L866.5 2153.9 L868 2154.3 L869.5 2154.6 L871 2154.9 L872.5 2155.2 L874 2155.5 L875.5 2155.8 L877 2156 L878.5 2156 L878.6 2156 L878.6 2156 L879.4 2102.3 L880.3 2062.4 L881.1 2026.6 L882 1993.1 L882.8 1968.3 L883.6 1967.2 L884.5 1966.1 L885.3 1965.1 L886.2 1964.2 L887 1963.3 L887.8 1962.5 L888.7 1961.8 L889.5 1961.2 L890.4 1960.6 L891.2 1960.1 L892 1959.7 L892.9 1959.3 L893.7 1958.9 L894.5 1958.6 L895.4 1958.4 L896.2 1958.2 L897.1 1958 L897.9 1957.9 L898.7 1957.8 L899.6 1957.8 L900.4 1957.7 L901.3 1957.7 L902.1 1957.7 L903.2 1985.6 L903.7 2008.8 L904.2 2028.2 L904.7 2044.4 L905.2 2057.9 L905.7 2069.3 L906.2 2078.9 L906.7 2087 L907.2 2093.9 L907.7 2099.7 L908.2 2104.7 L908.7 2108.9 L909.2 2112.6 L909.7 2115.8 L910.2 2118.6 L910.7 2121 L912.2 2126.8 L913.7 2131 L915.2 2134.2 L916.7 2136.8 L918.2 2139 L919.7 2140.8 L921.2 2142.5 L922.7 2144 L924.2 2145.3 L925.7 2146.5 L927.2 2147.5 L928.7 2148.5 L930.2 2149.4 L931.7 2150.2 L933.2 2150.9 L934.7 2151.6 L936.2 2152.2 L937.7 2152.8 L939.2 2153.3 L940.7 2153.7 L942.2 2154.2 L943.7 2154.5 L945.2 2154.9 L946.7 2155.2 L948.2 2155.5 L949.7 2155.7 L951.2 2156 L952.7 2156 L952.8 2156 L952.8 2156 L953.6 2102.4 L954.5 2062.7 L955.3 2026.9 L956.2 1993.5 L957 1969.4 L957.9 1968.3 L958.7 1967.2 L959.5 1966.2 L960.4 1965.3 L961.2 1964.5 L962.1 1963.7 L962.9 1963 L963.8 1962.4 L964.6 1961.8 L965.4 1961.3 L966.3 1960.8 L967.1 1960.4 L968 1960.1 L968.8 1959.8 L969.7 1959.6 L970.5 1959.4 L971.3 1959.2 L972.2 1959.1 L973 1959 L973.9 1959 L974.7 1958.9 L975.6 1958.9 L976.4 1958.9 L977.5 1986.6 L978 2009.7 L978.5 2029 L979 2045.1 L979.5 2058.5 L980 2069.9 L980.5 2079.4 L981 2087.4 L981.5 2094.2 L982 2100 L982.5 2105 L983 2109.2 L983.5 2112.9 L984 2116.1 L984.5 2118.8 L985 2121.2 L986.5 2127 L988 2131.1 L989.5 2134.3 L991 2136.9 L992.5 2139.1 L994 2140.9 L995.5 2142.6 L997 2144 L998.5 2145.3 L1000 2146.5 L1001.5 2147.6 L1003 2148.6 L1004.5 2149.4 L1006 2150.3 L1007.5 2151 L1009 2151.6 L1010.5 2152.2 L1012 2152.8 L1013.5 2153.3 L1015 2153.8 L1016.5 2154.2 L1018 2154.5 L1019.5 2154.9 L1021 2155.2 L1022.5 2155.5 L1024 2155.8 L1025.5 2156 L1027 2156 L1028.2 2156 L1028.2 2156 L1029 2102.7 L1029.7 2063.2 L1030.5 2027.6 L1031.2 1994.4 L1032 1962.8 L1032.7 1953.2 L1033.5 1952 L1034.3 1950.8 L1035 1949.8 L1035.8 1948.8 L1036.5 1947.9 L1037.3 1947.1 L1038 1946.4 L1038.8 1945.7 L1039.6 1945.2 L1040.3 1944.6 L1041.1 1944.2 L1041.8 1943.8 L1042.6 1943.5 L1043.3 1943.2 L1044.1 1943 L1044.9 1942.8 L1045.6 1942.6 L1046.4 1942.5 L1047.1 1942.5 L1047.9 1942.4 L1048.6 1942.4 L1049.4 1942.4 L1050.5 1972.4 L1051 1997.4 L1051.5 2018.3 L1052 2035.8 L1052.5 2050.4 L1053 2062.6 L1053.5 2073 L1054 2081.7 L1054.5 2089.1 L1055 2095.4 L1055.5 2100.7 L1056 2105.3 L1056.5 2109.3 L1057 2112.7 L1057.5 2115.7 L1058 2118.3 L1059.5 2124.5 L1061 2129.1 L1062.5 2132.5 L1064 2135.3 L1065.5 2137.7 L1067 2139.7 L1068.5 2141.5 L1070 2143 L1071.5 2144.5 L1073 2145.7 L1074.5 2146.9 L1076 2147.9 L1077.5 2148.9 L1079 2149.8 L1080.5 2150.6 L1082 2151.3 L1083.5 2151.9 L1085 2152.5 L1086.5 2153.1 L1088 2153.6 L1089.5 2154 L1091 2154.4 L1092.5 2154.8 L1094 2155.1 L1095.5 2155.4 L1096.5 2155.6 L1096.5 2160.2 Z"/><clipPath id="cc0"><use href="#pc0"/></clipPath></defs>
<use href="#pc0" fill="url(#gc0)"/>
<use href="#pc0" fill="url(#hc0)"/>
<use href="#pc0" fill="none" stroke="#d3f2fb" stroke-width="2.4" stroke-linejoin="round" stroke-opacity="0.95"/>
<rect x="281.6" y="2185.5" width="30.3" height="26.3" fill="#1b426e" stroke="#6f6f6f" stroke-opacity="0.75" stroke-width="1.2"/>
<rect x="359.4" y="2185.5" width="30.4" height="26.3" fill="#33639a" stroke="#6f6f6f" stroke-opacity="0.75" stroke-width="1.2"/>
<rect x="435.6" y="2185.5" width="29.8" height="26.3" fill="#4d8bb0" stroke="#6f6f6f" stroke-opacity="0.75" stroke-width="1.2"/>
<rect x="512.6" y="2185.5" width="29.8" height="26.3" fill="#71b8d4" stroke="#6f6f6f" stroke-opacity="0.75" stroke-width="1.2"/>
<rect x="586.1" y="2185.5" width="30.3" height="26.3" fill="#a9dce5" stroke="#6f6f6f" stroke-opacity="0.75" stroke-width="1.2"/>
<rect x="661.6" y="2185.5" width="29.8" height="26.3" fill="#fee4b1" stroke="#6f6f6f" stroke-opacity="0.75" stroke-width="1.2"/>
<rect x="737.1" y="2185.5" width="29.8" height="26.3" fill="#fed466" stroke="#6f6f6f" stroke-opacity="0.75" stroke-width="1.2"/>
<rect x="811.6" y="2185.5" width="29.8" height="26.3" fill="#f9a956" stroke="#6f6f6f" stroke-opacity="0.75" stroke-width="1.2"/>
<rect x="885.1" y="2185.5" width="29.8" height="26.3" fill="#f0893d" stroke="#6f6f6f" stroke-opacity="0.75" stroke-width="1.2"/>
<rect x="961" y="2185.5" width="29.2" height="26.3" fill="#e85f4e" stroke="#6f6f6f" stroke-opacity="0.75" stroke-width="1.2"/>
<rect x="1035.6" y="2185.5" width="29.6" height="26.3" fill="#df3639" stroke="#6f6f6f" stroke-opacity="0.75" stroke-width="1.2"/>
<path d="M1060.6 2234.5 L1082.8 2183.3 L1104.9 2132.2 L1127.1 2081 L1149.2 2029.9 L1171.4 1978.7 L1193.5 1927.6 L1215.6 1876.4 L1237.7 1825.3 L1259.8 1774.1 L1281.9 1723 L1303.9 1671.8 L1326 1620.7 L1328.3 1620.7 L1306.5 1671.8 L1284.7 1723 L1262.9 1774.1 L1241.1 1825.3 L1219.4 1876.4 L1197.6 1927.6 L1175.9 1978.7 L1154.1 2029.9 L1132.4 2081 L1110.7 2132.2 L1089 2183.3 L1067.3 2234.5 Z" fill="#000"/>
<g stroke="#000" fill="none">
<path d="M218.4 1804.4 V2231.8 H1067" stroke-width="5.3" stroke-linejoin="miter"/>
<path d="M268.4 2231.8 V2241.5 M319.7 2231.8 V2248.8 M371 2231.8 V2241.5 M422.4 2231.8 V2248.8 M473.7 2231.8 V2241.5 M525 2231.8 V2248.8 M576.4 2231.8 V2241.5 M627.7 2231.8 V2248.8 M679 2231.8 V2241.5 M730.4 2231.8 V2248.8 M781.7 2231.8 V2241.5 M833 2231.8 V2248.8 M884.4 2231.8 V2241.5 M935.7 2231.8 V2248.8 M987.1 2231.8 V2241.5 M1038.4 2231.8 V2248.8 M218.4 1806.6 H201.4 M218.4 1859.1 H208.8 M218.4 1911.7 H201.4 M218.4 1964.2 H208.8 M218.4 2016.8 H201.4 M218.4 2069.3 H208.8 M218.4 2121.9 H201.4 M218.4 2174.4 H208.8 M218.4 2227 H201.4" stroke-width="4.8"/>
<path d="M1096 2159 H1111.2" stroke-width="4.4"/>
<path d="M1166 1997 H1176" stroke-width="3.2"/>
<path d="M1220 1870.5 H1233.2" stroke-width="3.6"/>
<path d="M1269 1756.2 H1277.5" stroke-width="2.6"/>
<path d="M1310.5 1657 H1322.5" stroke-width="3.2"/>
</g>
<g font-family="'Liberation Serif', 'DejaVu Serif', serif" fill="#000">
<text x="320.7" y="2298.2" font-size="44.2" font-weight="normal" letter-spacing="0.1" text-anchor="middle">100</text>
<text x="423.4" y="2298.2" font-size="44.2" font-weight="normal" letter-spacing="0.1" text-anchor="middle">200</text>
<text x="526" y="2298.2" font-size="44.2" font-weight="normal" letter-spacing="0.1" text-anchor="middle">300</text>
<text x="628.7" y="2298.2" font-size="44.2" font-weight="normal" letter-spacing="0.1" text-anchor="middle">400</text>
<text x="731.4" y="2298.2" font-size="44.2" font-weight="normal" letter-spacing="0.1" text-anchor="middle">500</text>
<text x="834" y="2298.2" font-size="44.2" font-weight="normal" letter-spacing="0.1" text-anchor="middle">600</text>
<text x="936.7" y="2298.2" font-size="44.2" font-weight="normal" letter-spacing="0.1" text-anchor="middle">700</text>
<text x="1039.4" y="2298.2" font-size="44.2" font-weight="normal" letter-spacing="0.1" text-anchor="middle">800</text>
<text x="192.2" y="1821.9" font-size="45" font-weight="bold" text-anchor="end">5</text>
<text x="192.2" y="1927" font-size="45" font-weight="bold" text-anchor="end">4</text>
<text x="192.2" y="2032.1" font-size="45" font-weight="bold" text-anchor="end">3</text>
<text x="192.2" y="2137.2" font-size="45" font-weight="bold" text-anchor="end">2</text>
<text x="192.2" y="2242.3" font-size="45" font-weight="bold" text-anchor="end">1</text>
<text x="640.5" y="2388.5" font-size="67" text-anchor="middle">Time(s)</text>
<text transform="translate(134.4 2020.2) rotate(-90) scale(1 1.03)" font-size="65" letter-spacing="0.95" text-anchor="middle">Response(R<tspan font-size="42.9" dy="16.6">a</tspan><tspan dy="-16.6">/R</tspan><tspan font-size="42.9" dy="16.6">g</tspan><tspan dy="-16.6">)</tspan></text>
<text x="34.6" y="1321.5" font-size="66.5">(c)</text>
<text x="1118" y="2176.8" font-size="44" font-weight="bold">S1</text>
<text x="1240" y="1884.3" font-size="36.5" font-weight="bold">S2</text>
<text x="1328.6" y="1669.2" font-size="31.5" font-weight="bold">S3</text>
<rect x="1379.8" y="1322.7" width="52.6" height="82.9" fill="#1b426e"/>
<rect x="1379.8" y="1405" width="52.6" height="82.9" fill="#33639a"/>
<rect x="1379.8" y="1487.2" width="52.6" height="82.9" fill="#4d8bb0"/>
<rect x="1379.8" y="1569.5" width="52.6" height="82.9" fill="#71b8d4"/>
<rect x="1379.8" y="1651.8" width="52.6" height="82.9" fill="#a9dce5"/>
<rect x="1379.8" y="1734.1" width="52.6" height="82.9" fill="#fee4b1"/>
<rect x="1379.8" y="1816.3" width="52.6" height="82.9" fill="#fed466"/>
<rect x="1379.8" y="1898.6" width="52.6" height="82.9" fill="#f9a956"/>
<rect x="1379.8" y="1980.9" width="52.6" height="82.9" fill="#f0893d"/>
<rect x="1379.8" y="2063.2" width="52.6" height="82.9" fill="#e85f4e"/>
<rect x="1379.8" y="2145.4" width="52.6" height="82.9" fill="#df3639"/>
<rect x="1379.8" y="1323" width="52.6" height="905" fill="none" stroke="#26303a" stroke-width="1.6"/>
<path d="M1432.4 1364.1 H1447.4 M1432.4 1446.4 H1447.4 M1432.4 1528.7 H1447.4 M1432.4 1611 H1447.4 M1432.4 1693.2 H1447.4 M1432.4 1775.5 H1447.4 M1432.4 1857.8 H1447.4 M1432.4 1940 H1447.4 M1432.4 2022.3 H1447.4 M1432.4 2104.6 H1447.4 M1432.4 2186.9 H1447.4" stroke="#333" stroke-width="1.8" fill="none"/>
<text x="1471.6" y="1387.7" font-size="64.5" font-weight="bold" class="lg" letter-spacing="0.85" xml:space="preserve">Acetone 150 ppm</text>
<text font-weight="bold" class="lg" xml:space="preserve"><tspan x="1468.4" y="1471.8" font-size="72" font-weight="normal" stroke="#000" stroke-width="0.7">+</tspan><tspan x="1508.2" y="1470" font-size="64.5" letter-spacing="0.85"> Methanol 50 ppm</tspan></text>
<text font-weight="bold" class="lg" xml:space="preserve"><tspan x="1468.4" y="1554.1" font-size="72" font-weight="normal" stroke="#000" stroke-width="0.7">+</tspan><tspan x="1508.2" y="1552.3" font-size="64.5" letter-spacing="0.85"> Methanol 100 ppm</tspan></text>
<text font-weight="bold" class="lg" xml:space="preserve"><tspan x="1468.4" y="1636.4" font-size="72" font-weight="normal" stroke="#000" stroke-width="0.7">+</tspan><tspan x="1508.2" y="1634.6" font-size="64.5" letter-spacing="0.85"> Methanol 150 ppm</tspan></text>
<text font-weight="bold" class="lg" xml:space="preserve"><tspan x="1468.4" y="1718.6" font-size="72" font-weight="normal" stroke="#000" stroke-width="0.7">+</tspan><tspan x="1508.2" y="1716.8" font-size="64.5" letter-spacing="0.85"> Methanol 200 ppm</tspan></text>
<text font-weight="bold" class="lg" xml:space="preserve"><tspan x="1468.4" y="1800.9" font-size="72" font-weight="normal" stroke="#000" stroke-width="0.7">+</tspan><tspan x="1508.2" y="1799.1" font-size="64.5" letter-spacing="0.85"> Methanol 250 ppm</tspan></text>
<text font-weight="bold" class="lg" xml:space="preserve"><tspan x="1468.4" y="1883.2" font-size="72" font-weight="normal" stroke="#000" stroke-width="0.7">+</tspan><tspan x="1508.2" y="1881.4" font-size="64.5" letter-spacing="0.85"> Ethanol 50 ppm</tspan></text>
<text font-weight="bold" class="lg" xml:space="preserve"><tspan x="1468.4" y="1965.4" font-size="72" font-weight="normal" stroke="#000" stroke-width="0.7">+</tspan><tspan x="1508.2" y="1963.6" font-size="64.5" letter-spacing="0.85"> Ethanol 100 ppm</tspan></text>
<text font-weight="bold" class="lg" xml:space="preserve"><tspan x="1468.4" y="2047.7" font-size="72" font-weight="normal" stroke="#000" stroke-width="0.7">+</tspan><tspan x="1508.2" y="2045.9" font-size="64.5" letter-spacing="0.85"> Ethanol 150 ppm</tspan></text>
<text font-weight="bold" class="lg" xml:space="preserve"><tspan x="1468.4" y="2130" font-size="72" font-weight="normal" stroke="#000" stroke-width="0.7">+</tspan><tspan x="1508.2" y="2128.2" font-size="64.5" letter-spacing="0.85"> Ethanol 200 ppm</tspan></text>
<text font-weight="bold" class="lg" xml:space="preserve"><tspan x="1468.4" y="2212.3" font-size="72" font-weight="normal" stroke="#000" stroke-width="0.7">+</tspan><tspan x="1508.2" y="2210.5" font-size="64.5" letter-spacing="0.85"> Ethanol 250 ppm</tspan></text>
</g></g>
</svg></body></html>
